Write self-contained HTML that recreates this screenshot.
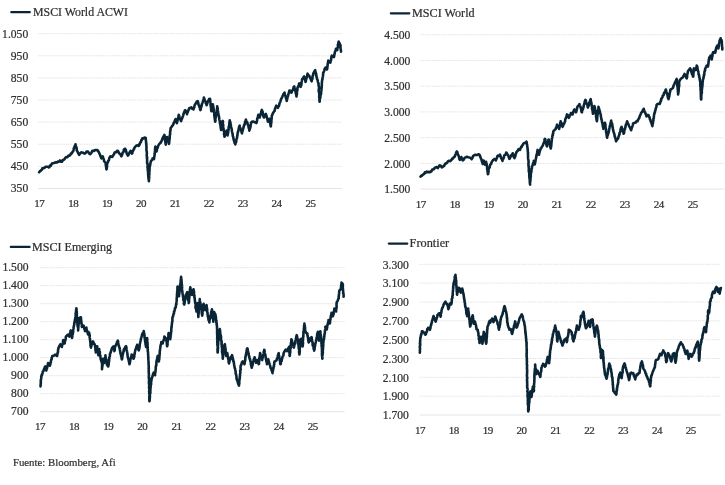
<!DOCTYPE html>
<html lang="es"><head><meta charset="utf-8"><title>MSCI</title>
<style>html,body{margin:0;padding:0;background:#fff}svg{display:block}text{font-family:"Liberation Serif", serif;fill:#303030;stroke:#303030;stroke-width:0.22}.yl{font-size:11.6px;text-anchor:end}.xl{font-size:11px;text-anchor:middle;letter-spacing:-0.5px}.lg{font-size:11.5px}.g{stroke:#e4e4e4;stroke-width:1;stroke-dasharray:1.5 0.8;fill:none}.ax{stroke:#e4e4e4;stroke-width:1;fill:none}.ln{stroke:#0a2536;stroke-width:2.6;fill:none;stroke-linejoin:round;stroke-linecap:round}.lk{stroke:#0a2536;stroke-width:2.2;fill:none;stroke-linecap:round}</style></head><body>
<svg width="725" height="485" viewBox="0 0 725 485">
<rect width="725" height="485" fill="#fff"/>
<g>
<line class="g" x1="38" x2="342" y1="33.7" y2="33.7"/>
<text class="yl" x="28.2" y="37.6">1.050</text>
<line class="g" x1="38" x2="342" y1="55.8" y2="55.8"/>
<text class="yl" x="28.2" y="59.7">950</text>
<line class="g" x1="38" x2="342" y1="77.9" y2="77.9"/>
<text class="yl" x="28.2" y="81.8">850</text>
<line class="g" x1="38" x2="342" y1="100.0" y2="100.0"/>
<text class="yl" x="28.2" y="103.9">750</text>
<line class="g" x1="38" x2="342" y1="122.1" y2="122.1"/>
<text class="yl" x="28.2" y="126.0">650</text>
<line class="g" x1="38" x2="342" y1="144.2" y2="144.2"/>
<text class="yl" x="28.2" y="148.2">550</text>
<line class="g" x1="38" x2="342" y1="166.4" y2="166.4"/>
<text class="yl" x="28.2" y="170.3">450</text>
<line class="ax" x1="38" x2="342" y1="188.5" y2="188.5"/>
<text class="yl" x="28.2" y="192.4">350</text>
<text class="xl" x="39.3" y="207.2">17</text>
<text class="xl" x="73.2" y="207.2">18</text>
<text class="xl" x="107.1" y="207.2">19</text>
<text class="xl" x="141.0" y="207.2">20</text>
<text class="xl" x="174.9" y="207.2">21</text>
<text class="xl" x="208.8" y="207.2">22</text>
<text class="xl" x="242.7" y="207.2">23</text>
<text class="xl" x="276.6" y="207.2">24</text>
<text class="xl" x="310.5" y="207.2">25</text>
<line class="lk" x1="11.3" x2="29.8" y1="12.2" y2="12.2"/>
<text class="lg" x="33" y="16.2" textLength="95.0" lengthAdjust="spacingAndGlyphs">MSCI World ACWI</text>
<path class="ln" d="M39.1,172.2 L40.0,171.1 L40.4,171.1 L41.2,170.1 L42.0,169.6 L42.4,168.3 L43.3,168.1 L44.2,168.0 L44.9,167.4 L46.0,166.7 L47.1,166.8 L48.1,166.8 L48.8,167.4 L49.3,167.2 L50.2,165.4 L50.8,165.8 L51.5,164.3 L52.2,163.3 L53.0,163.2 L54.0,163.0 L54.9,162.6 L56.0,162.4 L57.1,162.5 L57.8,161.6 L59.0,161.6 L59.9,160.5 L60.4,161.3 L61.2,161.8 L62.1,161.7 L62.6,160.0 L63.4,160.0 L64.0,159.6 L64.8,158.8 L65.4,157.7 L66.3,157.0 L67.2,157.3 L67.9,156.5 L68.6,155.5 L69.5,155.6 L70.2,155.2 L70.9,153.6 L71.7,153.4 L72.3,152.2 L73.0,151.5 L73.4,150.6 L73.6,149.7 L73.7,148.8 L74.3,147.3 L74.6,147.6 L74.7,146.0 L75.4,145.2 L75.5,144.3 L75.7,145.6 L75.8,146.6 L76.4,147.1 L76.4,148.1 L76.7,148.7 L76.7,150.4 L77.1,150.8 L77.7,152.0 L78.1,152.9 L78.4,153.6 L78.8,154.2 L79.2,154.9 L80.0,153.5 L80.5,153.2 L81.3,152.2 L82.1,152.5 L82.9,152.7 L83.9,153.3 L84.7,153.6 L85.6,153.0 L86.5,151.6 L87.5,151.5 L88.2,151.8 L89.0,153.3 L89.7,153.9 L90.2,154.2 L91.1,153.1 L91.5,152.7 L92.1,151.1 L93.0,150.8 L93.9,150.9 L95.1,150.0 L95.9,150.1 L97.2,150.1 L97.9,150.6 L98.4,151.5 L99.2,152.9 L99.6,154.0 L99.9,154.5 L100.2,155.1 L100.5,156.5 L101.1,157.0 L101.3,158.4 L101.9,157.4 L102.7,156.3 L103.1,157.4 L103.0,157.7 L103.6,158.8 L103.9,159.8 L104.1,161.1 L104.8,162.1 L105.4,162.5 L105.8,163.2 L105.7,164.9 L105.9,165.2 L106.0,166.4 L106.2,167.2 L106.2,167.9 L106.4,169.4 L106.7,169.0 L106.9,167.2 L107.1,166.2 L107.0,165.8 L107.0,164.2 L107.2,164.0 L107.5,162.5 L108.1,162.0 L108.2,160.8 L108.9,160.3 L109.1,159.2 L109.4,157.9 L110.0,156.8 L110.3,156.3 L111.2,156.6 L112.3,157.0 L112.9,155.7 L113.3,155.1 L113.9,154.4 L114.0,154.3 L114.6,152.6 L115.1,152.2 L116.1,152.3 L116.8,151.1 L117.9,150.8 L118.5,151.8 L118.8,152.9 L119.4,153.6 L120.0,153.9 L120.4,154.4 L120.7,155.0 L121.3,156.3 L121.6,155.9 L122.1,154.9 L122.3,154.1 L122.6,152.7 L123.1,152.4 L123.6,151.7 L123.8,149.8 L124.1,149.4 L125.0,148.7 L125.2,149.1 L125.8,149.9 L126.2,151.7 L126.4,152.0 L126.7,153.4 L127.0,154.0 L127.3,154.3 L127.8,155.6 L128.2,155.3 L128.7,154.5 L129.3,152.9 L129.4,152.8 L129.9,151.8 L130.5,150.8 L131.1,151.2 L131.3,152.1 L131.9,153.6 L132.3,153.3 L132.6,151.3 L133.2,150.6 L133.6,149.5 L134.1,149.0 L134.2,148.7 L134.7,147.3 L135.6,146.4 L136.6,145.5 L137.4,145.3 L138.8,146.0 L139.0,144.6 L139.5,144.8 L139.9,143.5 L140.2,142.4 L140.9,142.2 L141.0,141.5 L141.5,139.7 L141.9,139.8 L142.3,138.4 L143.5,138.4 L144.6,137.6 L145.7,137.7 L145.7,138.4 L145.8,139.0 L145.9,141.0 L146.1,141.5 L146.1,142.8 L146.1,143.0 L146.4,143.9 L146.3,145.5 L146.4,146.0 L146.5,146.7 L146.5,147.9 L146.4,148.4 L146.4,149.3 L146.5,150.6 L146.7,151.0 L146.8,152.2 L146.9,153.3 L146.8,153.8 L146.7,155.5 L146.8,156.6 L147.2,157.3 L146.9,158.3 L147.1,158.4 L147.1,159.8 L147.1,161.2 L147.1,162.2 L147.1,163.2 L147.5,163.4 L147.6,165.0 L147.6,166.0 L147.5,166.8 L147.5,167.4 L147.8,168.7 L147.8,169.4 L147.7,170.0 L148.1,171.8 L148.1,172.2 L148.1,173.5 L148.2,173.8 L148.1,174.6 L148.4,175.9 L148.3,176.7 L148.4,177.4 L148.5,178.0 L148.7,179.8 L148.9,180.2 L148.9,181.2 L148.7,180.0 L149.0,179.4 L149.0,178.6 L149.2,177.8 L149.1,176.3 L149.0,175.7 L149.2,174.7 L149.4,174.4 L149.3,172.7 L149.2,171.6 L149.5,171.2 L149.5,169.9 L149.4,169.9 L149.6,168.7 L149.6,167.4 L149.6,166.7 L149.9,165.9 L150.2,165.0 L150.3,164.1 L150.6,162.5 L150.9,161.3 L151.4,160.5 L151.6,160.4 L152.3,159.4 L152.6,158.4 L154.0,159.1 L154.1,157.9 L154.3,156.8 L154.5,155.7 L154.5,155.6 L154.7,154.0 L154.5,153.9 L154.9,152.7 L154.9,151.6 L155.1,150.4 L155.0,150.1 L155.1,148.9 L155.2,147.2 L155.4,146.6 L155.8,147.2 L155.7,149.1 L156.0,149.7 L156.2,150.1 L156.5,151.5 L156.9,150.3 L156.9,149.0 L157.1,148.6 L157.6,148.0 L157.8,147.3 L158.1,146.0 L158.7,144.9 L159.3,144.0 L159.9,143.2 L160.5,143.0 L160.9,141.8 L161.4,141.5 L161.9,140.1 L162.2,139.5 L162.6,138.2 L163.2,137.0 L163.6,136.2 L164.1,135.8 L164.4,134.9 L164.7,136.2 L164.6,136.4 L164.7,137.9 L164.9,138.8 L164.9,139.8 L165.2,140.6 L165.3,141.4 L165.5,143.0 L165.7,143.6 L165.7,144.6 L165.8,143.5 L166.0,142.1 L166.4,141.8 L166.4,141.2 L166.6,140.4 L166.7,139.3 L167.1,138.2 L167.1,137.0 L167.3,137.7 L167.7,139.1 L167.7,139.8 L168.1,140.8 L168.6,141.8 L168.8,143.0 L168.9,143.9 L169.1,143.5 L169.2,142.1 L169.3,141.4 L169.3,140.4 L169.5,139.6 L169.6,139.0 L169.7,138.0 L169.7,137.1 L169.7,135.6 L169.9,134.9 L170.2,134.2 L170.0,133.0 L170.2,132.4 L170.2,130.9 L170.6,130.0 L170.5,128.9 L170.7,128.0 L171.1,127.4 L172.0,126.4 L172.3,125.8 L173.0,124.9 L173.5,123.9 L173.8,122.6 L174.2,122.4 L174.9,120.5 L175.1,120.0 L175.6,119.0 L176.0,120.1 L176.3,120.7 L176.7,122.4 L176.9,123.2 L177.2,122.0 L177.4,121.0 L177.6,120.0 L177.7,119.9 L178.1,118.2 L178.3,117.9 L178.5,116.2 L178.5,116.0 L178.7,114.9 L179.2,115.7 L179.3,117.0 L179.6,117.7 L180.0,119.0 L180.5,119.8 L180.6,120.3 L181.1,121.1 L181.3,120.2 L181.9,118.8 L182.2,118.2 L182.5,117.1 L182.7,116.8 L183.1,115.6 L183.5,114.2 L183.7,113.7 L184.0,112.4 L184.7,112.0 L184.7,110.6 L185.2,110.1 L185.7,111.1 L186.0,112.3 L186.4,112.4 L186.7,112.9 L187.0,114.2 L187.3,112.8 L187.6,112.4 L187.9,111.1 L188.3,111.0 L188.6,109.9 L189.0,109.1 L189.4,108.0 L190.6,107.8 L191.4,107.3 L191.9,108.6 L193.0,109.0 L193.5,109.4 L193.7,108.2 L194.2,107.5 L194.5,106.3 L194.5,105.8 L194.9,104.5 L195.4,104.2 L196.3,102.4 L196.9,101.4 L197.7,101.1 L197.9,101.5 L198.4,103.3 L198.3,103.2 L198.6,105.1 L198.9,105.3 L199.1,106.0 L199.7,107.5 L200.0,108.5 L200.1,109.4 L200.4,110.1 L200.8,109.3 L200.8,108.4 L201.3,106.9 L201.3,106.6 L201.7,105.7 L201.7,104.8 L202.1,103.7 L202.5,102.6 L202.7,102.0 L203.0,101.4 L203.2,100.6 L203.6,99.1 L203.8,98.1 L203.9,97.6 L204.4,99.0 L204.4,99.0 L204.9,100.8 L205.4,101.3 L205.6,101.8 L205.8,103.3 L206.4,104.1 L206.6,105.2 L206.8,104.8 L207.2,103.5 L207.5,102.9 L208.0,101.1 L208.3,101.1 L208.9,99.4 L209.1,99.0 L210.0,98.8 L210.2,100.1 L210.2,100.5 L210.3,101.4 L210.4,102.4 L210.7,103.9 L210.5,104.7 L210.7,105.7 L210.9,107.0 L211.0,107.8 L211.2,108.4 L211.1,109.7 L211.2,109.9 L211.4,111.2 L211.4,110.3 L211.8,109.1 L212.1,107.7 L212.1,107.5 L212.3,106.1 L212.7,105.1 L212.8,104.3 L212.9,105.2 L213.2,105.7 L213.1,106.9 L213.5,107.5 L213.6,108.9 L213.7,110.3 L213.8,111.1 L213.9,112.1 L213.9,112.1 L214.3,113.5 L214.3,114.7 L214.3,115.5 L214.5,116.7 L214.6,116.9 L214.7,118.5 L214.7,118.5 L215.0,120.0 L215.0,121.2 L215.2,121.6 L215.5,120.6 L215.3,119.3 L215.5,119.0 L215.6,117.6 L215.8,117.3 L215.8,115.7 L216.1,115.8 L216.3,114.1 L216.2,113.0 L216.5,113.1 L216.7,111.5 L216.8,111.0 L216.7,110.5 L216.9,109.3 L217.1,108.7 L217.2,107.6 L217.2,106.4 L217.2,107.9 L217.6,107.9 L217.7,109.6 L217.8,110.2 L218.1,111.6 L218.0,112.2 L218.3,113.4 L218.4,113.6 L218.5,115.1 L218.7,115.4 L219.0,116.8 L219.2,118.2 L219.3,119.2 L219.4,119.7 L219.6,120.5 L219.9,121.8 L219.9,122.3 L219.9,123.1 L220.2,124.3 L220.5,125.3 L220.5,125.7 L220.7,127.7 L220.7,128.1 L221.1,128.8 L221.0,129.9 L221.3,129.5 L221.6,128.6 L221.5,127.6 L221.8,126.3 L222.0,125.2 L222.0,124.5 L222.1,123.6 L222.3,122.5 L222.4,121.2 L222.7,120.9 L223.0,121.6 L222.8,122.9 L222.9,124.3 L223.2,124.7 L223.2,125.8 L223.3,126.9 L223.4,127.7 L223.6,129.0 L223.5,128.8 L223.7,130.8 L223.8,130.6 L224.2,132.1 L224.2,132.9 L224.0,134.4 L224.5,135.1 L224.4,135.9 L224.5,136.8 L225.0,135.7 L224.9,135.6 L225.4,134.2 L225.5,133.4 L225.9,132.1 L226.4,131.4 L226.6,130.6 L226.9,132.0 L226.9,132.7 L227.3,133.3 L227.5,134.2 L227.7,135.4 L227.6,135.0 L227.8,134.1 L228.2,132.6 L228.2,131.5 L228.4,130.8 L228.3,130.6 L228.7,129.1 L228.5,128.3 L228.7,127.7 L228.7,126.5 L229.1,126.2 L229.3,125.2 L229.3,123.5 L229.5,122.8 L229.4,122.4 L229.7,120.8 L229.8,120.2 L229.8,121.0 L230.1,121.7 L230.5,123.0 L230.5,123.9 L230.6,124.3 L230.9,125.4 L230.9,126.3 L231.2,127.3 L231.4,128.2 L231.7,128.9 L231.8,130.4 L231.8,130.5 L232.1,132.0 L232.4,133.2 L232.7,134.3 L232.7,134.7 L232.7,135.7 L233.0,136.5 L233.3,137.4 L233.5,138.9 L233.8,140.0 L234.0,140.9 L234.4,141.3 L234.6,143.0 L234.8,142.9 L235.3,144.4 L235.6,143.3 L235.6,142.1 L236.2,141.9 L236.3,140.6 L236.3,140.0 L236.6,138.9 L236.9,138.2 L237.2,137.0 L237.1,136.6 L237.5,134.9 L237.6,134.0 L237.6,133.3 L237.8,132.1 L238.3,131.6 L238.2,131.0 L238.4,130.1 L238.6,129.0 L238.8,128.6 L239.0,127.1 L239.7,125.7 L240.0,127.1 L240.3,128.1 L240.5,129.0 L240.9,129.8 L241.2,130.5 L241.4,131.5 L241.8,132.9 L242.0,133.3 L242.1,132.4 L242.4,131.4 L242.8,130.0 L243.0,129.5 L243.3,128.1 L243.5,127.4 L243.8,126.4 L244.0,125.1 L244.4,124.9 L244.8,123.9 L244.9,123.3 L245.1,121.6 L245.3,121.5 L245.5,120.9 L245.9,119.5 L246.1,120.9 L246.7,121.8 L247.1,122.1 L247.4,122.8 L247.6,124.0 L248.0,125.1 L248.3,125.5 L248.5,126.6 L248.7,128.2 L249.1,128.1 L249.2,130.2 L249.4,130.6 L249.6,129.5 L249.8,129.2 L250.1,128.2 L250.5,126.8 L250.6,125.9 L250.7,124.5 L251.1,123.6 L251.0,122.6 L251.4,122.3 L252.3,121.5 L253.5,121.6 L254.4,122.1 L255.5,122.2 L256.3,123.0 L256.6,122.6 L256.9,121.5 L257.1,119.9 L257.2,119.0 L257.3,118.2 L257.8,117.8 L258.0,116.3 L258.2,115.4 L258.3,114.7 L258.9,116.2 L259.2,116.0 L259.7,117.5 L259.9,116.4 L260.2,115.9 L260.6,114.8 L260.6,113.7 L261.2,112.9 L261.3,111.4 L261.5,110.8 L261.8,109.9 L262.2,111.1 L262.5,111.2 L262.7,112.6 L262.9,113.3 L263.0,114.1 L263.4,116.1 L263.6,116.9 L263.9,117.5 L264.4,116.6 L265.0,116.1 L265.4,114.5 L265.9,114.0 L266.2,115.0 L266.6,116.4 L266.7,116.4 L266.8,117.3 L267.1,118.2 L267.6,120.0 L267.7,121.0 L268.0,121.6 L268.7,120.3 L269.1,120.2 L269.4,118.8 L269.5,119.2 L269.8,120.9 L269.9,122.2 L269.9,122.5 L270.4,124.0 L270.5,125.0 L270.5,125.3 L270.8,126.4 L271.0,125.8 L270.8,125.1 L271.1,123.8 L271.3,122.7 L271.3,122.4 L271.4,121.2 L271.4,120.2 L271.6,118.8 L271.7,117.7 L271.7,117.1 L271.8,116.5 L271.9,115.4 L272.2,115.1 L273.0,113.1 L273.2,112.7 L273.8,112.0 L274.2,111.2 L274.7,110.9 L274.9,109.2 L275.3,108.4 L275.5,107.5 L275.9,106.5 L276.3,105.7 L277.3,106.4 L278.0,107.8 L278.2,106.7 L278.8,106.1 L279.1,105.5 L279.3,104.5 L279.6,102.9 L280.0,102.3 L280.4,101.6 L280.6,100.6 L281.0,99.3 L281.6,98.4 L281.7,97.9 L282.3,96.9 L282.5,96.0 L283.1,95.3 L283.4,94.2 L283.9,93.6 L284.6,92.6 L284.6,93.9 L285.0,94.7 L285.3,95.6 L285.5,95.8 L285.6,96.7 L285.9,98.0 L286.4,99.2 L286.6,99.8 L286.7,100.9 L287.0,99.6 L287.2,98.8 L287.5,97.6 L287.6,96.8 L288.0,95.9 L288.2,95.3 L288.3,94.6 L288.8,92.8 L289.0,92.2 L289.2,92.0 L289.4,90.5 L290.3,90.7 L290.7,92.1 L291.5,92.6 L291.9,91.4 L292.4,90.4 L292.8,90.2 L293.2,88.9 L293.6,87.7 L293.7,87.0 L294.3,86.4 L294.3,86.8 L294.6,88.5 L294.9,89.1 L295.1,89.8 L295.5,91.2 L295.6,91.9 L295.8,93.4 L295.8,93.6 L296.2,94.1 L296.3,95.1 L296.5,96.5 L296.5,95.5 L296.9,94.3 L297.0,93.8 L296.8,93.4 L296.9,92.2 L297.2,91.0 L297.3,90.7 L297.4,88.9 L297.4,88.4 L297.6,87.5 L298.2,86.3 L298.6,86.0 L299.0,83.9 L299.3,83.3 L299.8,84.2 L299.8,84.7 L300.2,86.4 L300.7,86.8 L300.8,85.3 L301.2,85.5 L301.4,83.8 L301.5,83.4 L301.5,82.2 L301.7,81.6 L301.9,80.7 L302.1,79.2 L302.7,78.8 L303.5,77.3 L304.1,76.4 L304.2,77.1 L304.7,78.4 L305.0,78.9 L305.2,80.5 L305.5,80.9 L305.5,82.0 L305.8,81.4 L306.0,79.7 L306.4,78.6 L306.4,78.1 L306.7,77.4 L306.9,76.5 L307.3,75.7 L307.3,74.5 L307.6,73.7 L307.9,74.9 L308.5,75.0 L309.3,75.9 L309.7,77.1 L309.9,77.5 L310.5,78.6 L311.1,80.0 L311.4,80.9 L311.7,81.3 L311.7,79.7 L312.2,79.5 L312.5,78.0 L312.5,77.4 L312.5,76.5 L313.1,75.0 L313.1,74.4 L313.4,73.3 L314.0,72.4 L314.2,71.6 L314.8,70.8 L315.2,70.2 L315.3,71.4 L315.8,72.5 L315.6,73.3 L316.2,73.6 L316.1,75.1 L316.4,75.5 L316.4,76.8 L316.9,77.2 L316.9,78.8 L317.2,79.2 L317.7,80.3 L317.9,81.7 L318.2,82.9 L318.6,83.3 L318.5,83.8 L318.6,85.4 L318.6,85.9 L319.0,86.7 L319.0,88.0 L318.8,89.4 L318.7,90.6 L318.8,91.6 L319.0,92.0 L319.1,92.7 L319.2,93.4 L319.3,94.4 L319.3,95.4 L319.2,96.6 L319.3,97.9 L319.5,98.7 L319.4,99.5 L319.5,101.0 L319.6,101.8 L319.7,101.4 L319.7,99.8 L319.9,98.3 L320.3,98.1 L320.3,97.5 L320.4,96.3 L320.6,94.6 L320.9,94.3 L321.1,93.7 L321.1,92.3 L321.2,91.2 L321.4,90.2 L321.5,89.5 L321.5,88.7 L321.7,87.3 L321.7,86.6 L321.9,85.5 L321.7,84.6 L321.9,83.3 L321.9,82.0 L321.9,82.0 L322.1,80.6 L322.3,79.6 L322.5,79.2 L322.5,78.0 L322.8,76.8 L323.0,75.8 L323.1,74.5 L323.1,74.4 L323.2,72.6 L323.5,72.3 L324.0,71.4 L324.2,70.8 L324.6,68.9 L325.2,69.0 L325.5,67.5 L326.3,68.0 L326.9,69.5 L327.1,69.2 L327.4,67.4 L327.2,67.1 L327.5,66.3 L327.6,65.1 L327.7,63.9 L327.9,63.3 L327.9,62.8 L328.3,61.1 L328.3,60.6 L329.0,61.4 L329.6,62.1 L330.4,62.6 L330.5,61.5 L331.0,60.2 L331.1,60.0 L331.2,58.1 L331.4,57.5 L331.4,56.9 L331.8,55.7 L332.8,56.3 L333.8,57.1 L334.1,56.6 L334.3,55.0 L334.4,54.4 L334.7,53.5 L334.9,51.9 L335.2,51.1 L335.6,50.7 L335.8,50.0 L335.9,48.8 L336.5,50.1 L337.3,50.2 L337.3,49.1 L337.6,47.8 L337.6,47.4 L338.1,46.9 L337.8,44.9 L338.3,44.0 L338.2,44.0 L338.5,42.0 L338.7,41.6 L338.9,42.4 L339.4,42.9 L339.9,44.1 L340.5,45.4 L340.4,46.5 L340.5,47.1 L340.6,48.9 L340.8,49.6 L340.9,50.3 L341.0,51.6"/>
</g>
<g>
<line class="g" x1="420.5" x2="724" y1="34.7" y2="34.7"/>
<text class="yl" x="410.3" y="38.9">4.500</text>
<line class="g" x1="420.5" x2="724" y1="60.4" y2="60.4"/>
<text class="yl" x="410.3" y="64.6">4.000</text>
<line class="g" x1="420.5" x2="724" y1="86.2" y2="86.2"/>
<text class="yl" x="410.3" y="90.4">3.500</text>
<line class="g" x1="420.5" x2="724" y1="111.9" y2="111.9"/>
<text class="yl" x="410.3" y="116.1">3.000</text>
<line class="g" x1="420.5" x2="724" y1="137.7" y2="137.7"/>
<text class="yl" x="410.3" y="141.9">2.500</text>
<line class="g" x1="420.5" x2="724" y1="163.4" y2="163.4"/>
<text class="yl" x="410.3" y="167.6">2.000</text>
<line class="ax" x1="420.5" x2="724" y1="189.1" y2="189.1"/>
<text class="yl" x="410.3" y="193.3">1.500</text>
<text class="xl" x="420.7" y="208.0">17</text>
<text class="xl" x="454.7" y="208.0">18</text>
<text class="xl" x="488.7" y="208.0">19</text>
<text class="xl" x="522.7" y="208.0">20</text>
<text class="xl" x="556.7" y="208.0">21</text>
<text class="xl" x="590.7" y="208.0">22</text>
<text class="xl" x="624.7" y="208.0">23</text>
<text class="xl" x="658.7" y="208.0">24</text>
<text class="xl" x="692.7" y="208.0">25</text>
<line class="lk" x1="390.8" x2="409.3" y1="13.35" y2="13.35"/>
<text class="lg" x="412" y="16.8" textLength="62.6" lengthAdjust="spacingAndGlyphs">MSCI World</text>
<path class="ln" d="M420.5,176.6 L421.4,175.6 L421.8,175.8 L422.6,174.9 L423.3,174.3 L424.3,173.8 L424.8,172.4 L425.9,172.6 L426.7,171.5 L427.7,172.1 L429.1,171.9 L430.2,172.2 L431.1,171.2 L431.4,171.3 L432.3,169.6 L433.0,169.4 L433.8,169.3 L434.8,167.7 L435.7,167.4 L436.6,167.1 L437.8,168.1 L438.5,167.1 L439.1,165.9 L439.9,165.3 L440.5,165.6 L441.1,166.4 L441.9,167.4 L442.6,167.1 L443.2,166.2 L444.1,165.9 L444.7,164.6 L445.3,163.5 L446.2,163.5 L446.7,163.1 L447.5,162.2 L448.1,161.1 L449.1,160.7 L450.1,161.1 L450.9,160.5 L451.6,159.8 L452.2,158.5 L452.9,158.7 L453.7,157.3 L454.4,157.0 L454.8,156.3 L455.2,155.0 L455.7,154.3 L456.0,153.3 L456.2,152.4 L456.9,151.5 L457.3,152.0 L457.7,154.1 L458.0,154.5 L458.5,155.6 L459.0,156.7 L459.2,158.0 L459.4,159.2 L459.9,159.8 L460.5,158.9 L460.8,158.0 L461.3,157.0 L461.6,157.6 L461.8,159.3 L462.4,159.9 L462.7,160.5 L463.4,160.0 L464.0,159.0 L464.7,157.7 L465.6,157.5 L466.7,156.7 L467.5,157.0 L468.3,157.3 L469.3,157.5 L470.2,157.7 L470.9,158.2 L471.6,159.1 L472.2,158.3 L472.6,157.5 L473.1,155.9 L473.7,155.6 L474.8,154.9 L475.8,154.9 L476.8,155.1 L477.7,154.8 L478.5,154.2 L479.4,154.6 L479.9,155.6 L480.1,156.7 L480.4,156.8 L480.9,158.5 L481.3,159.1 L481.6,159.6 L481.7,160.8 L482.1,161.6 L482.3,162.5 L482.7,163.9 L483.0,163.0 L483.3,161.4 L483.6,160.5 L483.9,160.9 L484.1,162.4 L484.6,163.1 L484.8,164.6 L485.1,163.7 L485.8,162.9 L486.1,161.8 L486.1,162.3 L486.5,163.5 L486.7,164.5 L486.8,166.2 L487.1,166.7 L487.1,168.1 L487.2,169.4 L487.4,169.8 L487.5,171.0 L487.7,172.0 L487.7,172.7 L487.9,174.3 L488.2,173.9 L488.4,172.2 L488.6,171.3 L488.5,170.9 L488.5,169.4 L488.9,168.7 L489.1,168.2 L489.8,167.1 L489.8,165.7 L490.3,164.6 L491.0,164.2 L491.3,163.1 L491.8,161.9 L492.3,161.1 L493.1,160.1 L493.6,159.7 L494.4,159.1 L495.2,159.3 L495.8,160.5 L496.2,159.2 L496.8,158.3 L496.9,158.0 L497.4,156.2 L497.9,155.6 L499.0,155.9 L499.9,154.9 L500.0,154.7 L500.2,155.4 L500.8,156.7 L501.0,157.9 L501.5,158.7 L502.0,159.1 L502.2,159.7 L502.5,160.9 L502.7,159.4 L503.0,159.5 L503.5,158.3 L503.8,157.5 L504.1,156.1 L504.6,155.0 L505.2,154.8 L505.9,154.0 L506.2,152.6 L506.9,153.2 L507.6,154.7 L507.8,155.0 L508.5,155.8 L508.8,157.5 L509.1,157.8 L509.4,158.8 L509.9,158.3 L510.4,157.1 L511.0,156.1 L511.5,154.7 L512.2,154.7 L512.7,153.3 L513.0,154.8 L513.5,155.0 L513.6,156.6 L514.0,157.4 L514.5,158.1 L515.0,156.8 L515.0,155.8 L515.4,156.1 L515.6,154.1 L516.1,153.4 L516.4,152.3 L516.6,151.9 L517.5,150.9 L517.9,150.6 L518.6,149.2 L520.0,149.9 L520.4,148.7 L520.9,147.7 L521.1,146.8 L521.6,147.1 L522.1,145.7 L522.8,144.9 L523.3,143.7 L524.2,143.0 L525.1,143.0 L525.6,142.6 L526.5,141.6 L526.7,142.2 L526.9,144.1 L527.1,144.8 L527.2,145.2 L527.2,146.3 L527.4,147.0 L527.6,148.5 L527.7,150.0 L527.8,150.5 L527.8,151.8 L527.8,151.9 L528.1,152.9 L527.9,154.5 L528.0,154.7 L528.1,155.9 L528.0,156.5 L528.0,157.4 L528.1,158.7 L528.3,159.5 L528.4,160.0 L528.5,161.2 L528.6,162.4 L528.5,162.9 L528.4,164.7 L528.5,165.8 L528.9,166.6 L528.7,167.6 L528.8,167.7 L528.8,169.6 L528.8,170.5 L528.8,171.5 L529.0,172.0 L529.2,172.6 L529.3,174.1 L529.3,175.1 L529.2,175.8 L529.3,176.4 L529.5,177.7 L529.4,178.0 L529.8,179.8 L529.7,180.2 L529.8,181.5 L529.8,181.8 L529.8,182.6 L530.0,183.9 L530.1,184.7 L530.0,183.8 L530.1,182.6 L530.2,181.4 L530.3,181.3 L530.5,179.8 L530.3,178.7 L530.6,178.1 L530.6,177.3 L530.8,176.4 L530.8,174.9 L530.8,174.3 L530.9,173.3 L531.1,172.3 L531.4,171.9 L531.5,170.1 L531.4,168.9 L531.9,168.4 L532.0,167.0 L532.0,166.4 L532.3,166.0 L532.8,164.8 L533.0,163.5 L533.3,163.0 L533.7,162.3 L533.8,160.9 L534.2,162.6 L534.4,162.8 L534.8,164.4 L535.0,163.1 L535.0,162.8 L535.4,161.7 L535.5,160.4 L535.8,159.2 L536.0,158.1 L536.1,158.1 L536.2,156.8 L536.6,155.5 L536.4,155.3 L536.9,154.1 L537.1,153.0 L537.3,151.8 L537.3,151.4 L537.6,149.9 L537.8,151.2 L538.1,151.4 L538.6,152.3 L538.5,154.3 L539.0,154.7 L539.2,153.9 L539.4,152.5 L539.8,151.7 L539.9,150.5 L540.0,150.2 L540.5,149.5 L540.7,148.5 L541.3,148.0 L542.1,146.4 L542.8,145.7 L543.1,144.6 L543.4,143.7 L543.7,143.5 L543.9,142.8 L544.3,141.4 L544.4,140.9 L544.5,139.5 L544.9,138.8 L545.3,139.3 L545.5,140.3 L545.9,141.7 L546.1,142.9 L546.2,143.1 L546.4,144.6 L546.6,145.5 L547.0,146.4 L547.0,145.5 L547.4,144.4 L547.6,143.2 L548.0,142.8 L548.2,141.5 L548.3,140.3 L548.6,139.5 L548.8,139.8 L549.2,141.4 L549.3,142.6 L549.5,143.7 L549.7,144.4 L550.1,145.2 L550.0,145.6 L550.4,146.8 L550.4,147.4 L550.8,148.5 L550.9,147.4 L551.2,146.4 L551.2,145.7 L551.3,145.1 L551.4,143.6 L551.5,142.8 L551.5,141.9 L551.7,140.9 L551.8,140.3 L551.8,138.8 L552.1,138.2 L552.3,137.2 L552.4,135.7 L552.9,135.1 L552.8,133.9 L553.2,133.3 L553.2,131.9 L553.6,130.9 L554.4,130.3 L555.0,129.5 L555.7,128.9 L555.9,128.0 L556.6,126.8 L556.7,126.0 L557.1,124.7 L557.6,125.8 L557.8,126.0 L558.3,127.7 L558.9,127.5 L559.2,128.9 L559.3,127.9 L559.6,127.0 L559.8,125.6 L560.0,125.3 L560.1,123.8 L560.2,122.8 L560.5,121.8 L560.6,121.3 L560.8,122.6 L561.4,122.8 L561.7,124.3 L562.1,124.4 L562.2,126.0 L562.6,126.8 L563.1,125.7 L563.3,125.2 L563.7,124.0 L564.3,123.5 L564.7,122.0 L565.1,121.5 L565.2,120.2 L565.4,119.1 L566.0,117.7 L566.3,117.0 L566.5,116.0 L566.7,115.6 L567.0,114.4 L567.5,114.8 L567.8,116.1 L568.2,116.6 L568.8,117.8 L569.4,117.0 L569.5,115.5 L570.2,115.2 L570.5,114.5 L570.9,113.0 L571.9,113.5 L572.6,114.4 L573.0,112.9 L573.2,111.9 L573.6,111.5 L573.9,110.1 L574.4,109.5 L574.9,110.8 L575.4,111.5 L576.0,112.3 L576.2,111.6 L576.6,110.5 L576.5,110.0 L577.0,108.8 L577.1,107.5 L577.7,106.4 L578.5,105.8 L579.0,104.7 L579.5,104.0 L579.6,105.2 L579.8,106.3 L580.4,106.3 L580.5,107.2 L580.8,108.2 L581.3,109.9 L581.2,109.9 L581.5,111.8 L582.0,112.3 L582.0,111.1 L582.2,110.0 L582.8,109.8 L583.0,109.0 L583.1,108.0 L583.6,107.1 L583.6,106.1 L583.8,105.4 L584.3,103.8 L584.3,103.5 L584.7,102.7 L584.7,101.7 L585.1,100.6 L585.4,99.9 L585.9,100.5 L586.1,101.7 L586.4,103.0 L586.8,103.9 L587.2,104.3 L587.4,105.1 L587.7,106.9 L587.9,107.5 L588.0,106.0 L588.5,106.0 L589.0,104.5 L589.1,103.2 L589.3,102.8 L589.8,101.8 L589.9,101.5 L590.2,100.1 L590.7,99.2 L590.6,100.4 L590.9,100.4 L591.0,102.2 L591.4,102.4 L591.5,104.1 L591.5,104.4 L591.7,105.2 L591.8,106.2 L592.2,107.7 L592.0,108.3 L592.3,109.3 L592.5,110.6 L592.7,111.4 L592.9,111.9 L592.8,113.2 L593.0,113.7 L593.1,112.3 L593.2,111.8 L593.6,110.6 L593.8,109.3 L593.8,109.1 L594.0,107.7 L594.3,106.8 L594.4,106.1 L594.5,107.0 L594.9,107.4 L594.8,108.5 L595.2,109.1 L595.3,110.5 L595.5,112.0 L595.6,112.7 L595.7,113.7 L595.7,113.7 L596.1,115.1 L596.1,116.2 L596.1,117.1 L596.4,118.2 L596.4,118.5 L596.6,120.1 L596.6,120.0 L596.9,121.3 L597.0,120.6 L597.0,119.9 L597.3,118.4 L597.1,117.1 L597.3,116.8 L597.4,115.4 L597.6,115.1 L597.5,113.5 L597.9,113.5 L598.1,111.8 L598.0,110.7 L598.2,110.8 L598.4,109.2 L598.5,108.7 L598.4,108.1 L598.5,106.8 L598.8,107.9 L599.2,109.2 L599.4,109.9 L599.5,111.2 L599.9,111.2 L600.1,112.8 L600.3,113.4 L600.6,114.4 L600.9,115.7 L600.8,116.3 L601.1,117.5 L601.2,117.6 L601.3,119.1 L601.6,119.3 L601.9,121.2 L602.0,122.2 L602.2,122.6 L602.4,123.5 L602.7,124.7 L602.7,125.1 L602.8,125.9 L603.1,127.1 L603.4,128.0 L603.4,128.9 L603.6,127.6 L603.9,127.7 L603.9,126.3 L604.3,125.2 L604.4,124.9 L604.7,124.0 L604.8,122.7 L605.0,122.7 L605.1,124.0 L605.4,124.4 L605.5,125.2 L605.4,126.2 L605.5,127.1 L605.7,127.8 L605.7,128.3 L606.1,129.5 L606.0,130.8 L606.1,132.2 L606.4,132.5 L606.4,133.6 L606.6,134.6 L606.7,135.4 L606.9,136.6 L606.8,136.5 L607.1,137.8 L607.2,137.5 L607.4,135.4 L607.9,135.1 L608.1,134.0 L608.1,133.6 L608.7,132.5 L608.7,131.5 L609.1,130.3 L609.1,129.6 L609.2,129.2 L609.5,127.8 L609.6,127.1 L609.9,125.7 L610.3,125.0 L610.5,124.6 L610.4,123.5 L610.9,122.2 L611.0,121.2 L611.2,120.6 L611.3,122.0 L611.5,122.9 L612.0,123.3 L612.1,124.1 L612.4,125.3 L612.4,127.0 L612.8,127.3 L612.8,128.4 L613.0,129.6 L613.3,130.2 L613.3,131.2 L613.8,132.7 L614.2,133.5 L614.2,133.7 L614.5,134.8 L614.6,136.2 L615.0,136.4 L615.0,137.5 L615.4,138.2 L615.8,139.6 L615.9,140.4 L616.0,141.3 L616.7,140.0 L617.5,139.2 L618.1,138.5 L618.3,137.4 L618.6,136.6 L619.0,135.6 L619.3,134.5 L619.5,134.3 L619.6,132.6 L620.0,132.4 L620.4,131.7 L620.5,130.2 L620.6,129.3 L620.9,128.2 L621.3,127.2 L621.6,126.8 L621.9,127.9 L622.0,128.7 L622.4,129.0 L622.6,130.7 L622.7,130.5 L623.2,131.7 L623.3,132.3 L623.6,133.7 L624.1,133.0 L624.2,131.7 L624.2,131.1 L624.5,129.9 L625.0,129.0 L624.9,128.6 L625.5,127.0 L625.5,126.1 L625.7,125.4 L626.0,124.3 L626.5,123.8 L626.5,123.2 L626.8,122.4 L627.1,121.3 L627.4,122.2 L627.9,123.6 L628.4,124.3 L628.8,125.3 L629.1,126.2 L629.6,126.9 L630.0,127.6 L630.4,128.5 L630.9,129.8 L631.2,130.2 L631.3,129.4 L631.6,128.5 L632.0,127.3 L632.2,126.9 L632.6,125.7 L632.8,125.0 L633.0,123.7 L633.3,123.3 L634.2,123.1 L635.1,122.6 L635.9,122.4 L636.6,121.1 L637.5,121.3 L637.7,120.6 L638.1,120.0 L638.5,119.1 L639.2,118.1 L639.6,116.6 L640.0,115.5 L640.2,115.1 L640.7,114.0 L641.2,112.8 L641.8,112.1 L642.2,111.9 L642.9,110.0 L643.2,110.2 L643.7,108.8 L644.0,109.6 L644.3,111.2 L644.7,112.0 L645.2,112.5 L645.4,113.5 L645.7,114.0 L646.2,114.9 L646.4,116.4 L647.3,115.1 L648.5,115.1 L648.7,115.4 L649.0,116.8 L649.6,117.3 L649.8,118.9 L650.1,119.7 L650.4,119.8 L650.6,120.7 L650.8,121.7 L651.4,123.0 L651.6,123.3 L651.8,124.2 L652.2,125.8 L652.4,126.1 L652.5,124.7 L652.6,124.1 L652.8,123.7 L653.0,122.7 L652.9,121.5 L653.4,120.8 L653.4,119.3 L653.4,118.7 L653.8,118.1 L653.9,116.3 L654.0,115.8 L654.0,115.1 L654.4,113.7 L654.5,112.7 L654.8,112.8 L655.0,111.6 L655.3,110.3 L655.6,109.7 L655.8,108.1 L656.1,107.6 L656.4,107.1 L656.5,105.2 L656.8,104.7 L657.5,104.0 L658.5,103.7 L659.6,104.0 L660.0,103.4 L660.2,102.5 L660.8,100.8 L661.1,100.7 L661.2,98.8 L661.6,98.5 L662.1,97.7 L662.5,97.2 L662.7,95.7 L663.5,95.3 L663.8,94.5 L664.0,92.9 L664.7,92.5 L664.8,91.9 L665.4,90.5 L665.8,89.5 L666.1,90.3 L666.4,91.8 L666.6,92.4 L666.8,93.2 L667.1,93.6 L667.3,94.3 L667.6,95.5 L667.8,96.7 L667.9,98.0 L668.5,97.7 L668.5,99.2 L668.7,98.0 L669.0,97.1 L669.2,96.9 L669.4,95.1 L669.6,94.3 L669.6,93.3 L669.9,92.3 L670.3,91.1 L670.3,90.3 L670.6,89.5 L671.8,88.9 L672.7,88.1 L673.1,87.6 L673.3,86.7 L673.7,85.2 L674.1,84.6 L674.4,83.9 L674.8,82.7 L675.4,81.9 L675.5,81.5 L676.1,80.5 L676.4,79.8 L676.7,78.9 L676.7,79.7 L676.7,80.9 L676.8,82.0 L677.0,82.9 L677.2,83.7 L677.2,84.0 L677.2,84.8 L677.3,86.1 L677.7,87.4 L677.7,87.9 L677.7,88.7 L677.7,89.7 L677.9,90.3 L677.9,91.4 L678.1,92.4 L678.1,93.7 L678.1,94.5 L678.1,93.9 L678.5,92.1 L678.5,91.5 L678.6,91.3 L678.7,89.4 L678.6,89.1 L678.8,87.6 L679.0,86.6 L679.1,86.4 L679.2,85.1 L679.2,83.9 L679.0,83.1 L679.2,82.0 L679.3,81.8 L679.5,80.6 L680.2,79.7 L680.8,78.9 L681.6,78.1 L682.3,77.8 L683.0,77.0 L683.5,75.9 L684.0,75.4 L684.5,73.9 L684.8,74.7 L685.5,75.2 L685.8,76.1 L686.1,77.4 L686.7,78.4 L687.0,77.1 L687.2,76.5 L687.0,76.0 L687.2,74.8 L687.5,73.5 L687.7,73.2 L687.8,71.7 L688.4,70.5 L688.8,70.0 L689.6,69.0 L690.1,68.3 L690.5,69.8 L690.9,69.6 L691.2,71.0 L691.2,71.5 L691.7,72.8 L692.0,74.3 L692.4,74.2 L692.9,76.3 L693.1,76.7 L693.3,75.6 L693.4,75.2 L693.3,74.1 L693.4,73.5 L693.6,72.6 L693.6,71.6 L693.8,70.1 L693.7,69.1 L693.9,68.3 L694.9,69.3 L695.6,70.0 L696.0,68.9 L696.2,68.6 L696.5,67.2 L696.5,66.8 L696.7,65.6 L697.0,66.1 L697.4,66.9 L697.4,68.2 L697.7,69.4 L697.9,70.4 L698.3,71.4 L698.4,72.2 L698.6,73.1 L698.5,74.4 L698.8,74.5 L699.2,75.5 L699.1,76.3 L699.4,77.4 L699.8,78.9 L699.8,79.8 L699.7,79.7 L700.1,81.1 L700.3,82.2 L700.4,82.7 L700.3,83.9 L700.2,84.9 L700.6,85.3 L700.3,86.3 L700.6,87.2 L700.6,88.4 L700.5,89.0 L700.7,90.0 L700.7,91.4 L701.0,92.5 L700.7,93.4 L701.1,93.7 L700.8,95.3 L700.9,95.7 L700.8,97.0 L701.2,97.4 L700.9,99.0 L701.2,99.5 L701.3,98.7 L701.3,98.1 L701.3,97.3 L701.3,95.4 L701.4,95.0 L701.5,93.8 L701.9,92.6 L701.9,92.0 L701.7,91.6 L701.7,90.9 L702.0,89.5 L701.9,89.1 L702.2,87.2 L702.4,85.9 L702.5,85.0 L702.5,84.0 L702.5,83.2 L702.6,82.6 L702.8,81.4 L702.8,80.6 L702.9,79.3 L703.2,79.0 L703.5,78.4 L703.5,77.0 L704.0,76.1 L703.9,74.7 L704.3,74.5 L704.3,74.0 L704.4,72.8 L704.6,71.1 L704.9,71.0 L705.1,70.4 L705.1,68.9 L705.5,68.1 L705.9,67.2 L706.3,66.6 L706.7,65.6 L707.8,66.7 L708.0,66.2 L708.3,64.8 L708.3,64.1 L708.5,63.0 L708.5,62.1 L708.8,60.8 L708.8,59.5 L708.9,59.6 L709.2,58.1 L709.3,57.3 L710.0,56.9 L710.6,55.6 L710.9,56.7 L711.2,57.5 L711.6,58.3 L711.7,59.5 L712.0,58.0 L712.0,58.0 L712.2,56.2 L712.5,56.0 L712.5,55.4 L712.6,53.6 L713.0,53.7 L713.1,52.2 L714.2,52.1 L715.1,52.8 L715.3,52.4 L715.7,50.5 L715.6,50.0 L716.0,49.1 L716.2,47.8 L716.7,46.8 L717.3,45.6 L717.6,46.3 L718.0,47.5 L718.4,48.4 L718.4,47.9 L718.9,46.2 L718.9,45.8 L718.9,44.9 L719.0,43.7 L719.4,42.5 L719.5,42.3 L719.5,41.1 L720.0,39.6 L720.3,39.0 L720.6,38.3 L720.8,39.5 L721.4,40.0 L721.8,41.1 L721.8,42.5 L721.9,42.8 L721.9,44.0 L721.9,44.9 L722.0,45.2 L722.1,46.2 L722.3,47.6 L722.3,48.8 L722.3,49.5"/>
</g>
<g>
<line class="g" x1="40" x2="344.5" y1="267.7" y2="267.7"/>
<text class="yl" x="28.5" y="271.2">1.500</text>
<line class="g" x1="40" x2="344.5" y1="285.7" y2="285.7"/>
<text class="yl" x="28.5" y="289.2">1.400</text>
<line class="g" x1="40" x2="344.5" y1="303.7" y2="303.7"/>
<text class="yl" x="28.5" y="307.2">1.300</text>
<line class="g" x1="40" x2="344.5" y1="321.7" y2="321.7"/>
<text class="yl" x="28.5" y="325.2">1.200</text>
<line class="g" x1="40" x2="344.5" y1="339.7" y2="339.7"/>
<text class="yl" x="28.5" y="343.2">1.100</text>
<line class="g" x1="40" x2="344.5" y1="357.7" y2="357.7"/>
<text class="yl" x="28.5" y="361.2">1.000</text>
<line class="g" x1="40" x2="344.5" y1="375.7" y2="375.7"/>
<text class="yl" x="28.5" y="379.2">900</text>
<line class="g" x1="40" x2="344.5" y1="393.7" y2="393.7"/>
<text class="yl" x="28.5" y="397.2">800</text>
<line class="ax" x1="40" x2="344.5" y1="411.7" y2="411.7"/>
<text class="yl" x="28.5" y="415.2">700</text>
<text class="xl" x="40.0" y="430.2">17</text>
<text class="xl" x="74.1" y="430.2">18</text>
<text class="xl" x="108.2" y="430.2">19</text>
<text class="xl" x="142.3" y="430.2">20</text>
<text class="xl" x="176.4" y="430.2">21</text>
<text class="xl" x="210.5" y="430.2">22</text>
<text class="xl" x="244.6" y="430.2">23</text>
<text class="xl" x="278.7" y="430.2">24</text>
<text class="xl" x="312.8" y="430.2">25</text>
<line class="lk" x1="10.8" x2="29.6" y1="246.9" y2="246.9"/>
<text class="lg" x="32" y="250.9" textLength="80.0" lengthAdjust="spacingAndGlyphs">MSCI Emerging</text>
<path class="ln" d="M40.5,386.4 L40.7,385.0 L40.6,384.8 L40.7,383.5 L40.9,382.8 L40.7,381.1 L40.9,381.0 L40.8,380.0 L41.2,378.6 L41.3,377.4 L41.2,376.8 L41.4,376.3 L41.9,374.4 L42.2,374.5 L42.6,372.7 L42.8,371.6 L43.3,371.2 L43.7,370.2 L44.0,369.0 L44.5,368.0 L44.8,367.1 L45.4,366.4 L45.6,367.8 L45.7,368.7 L46.2,370.1 L46.3,370.6 L46.5,369.1 L46.9,368.9 L47.0,368.2 L47.3,367.2 L47.5,365.6 L47.8,365.3 L47.9,363.9 L48.1,363.0 L48.6,363.3 L49.3,365.2 L49.9,365.7 L50.2,364.4 L50.4,364.2 L50.5,362.9 L50.9,362.2 L50.9,361.3 L51.0,360.4 L51.5,359.0 L51.7,359.3 L51.7,357.7 L52.2,356.9 L52.3,356.0 L53.2,355.9 L54.0,355.6 L55.0,354.7 L56.2,355.4 L57.1,356.0 L57.2,355.2 L57.4,353.9 L57.4,353.8 L57.8,352.7 L58.0,351.9 L58.0,350.9 L58.1,349.7 L58.5,348.2 L58.5,347.8 L58.9,347.0 L59.5,346.0 L60.0,344.9 L60.6,344.2 L61.1,345.2 L61.5,346.2 L61.9,347.0 L62.0,345.4 L62.4,344.6 L62.6,344.4 L62.8,343.4 L63.1,341.7 L63.0,341.2 L63.3,340.1 L63.5,340.3 L63.9,342.1 L64.4,342.2 L64.7,343.5 L64.7,342.3 L65.1,341.1 L65.2,340.2 L65.5,339.8 L65.7,338.4 L65.8,337.0 L66.1,336.6 L66.6,335.8 L67.6,334.8 L68.1,334.5 L68.7,335.6 L69.5,336.6 L69.8,335.8 L69.7,334.3 L70.1,333.5 L70.2,332.6 L70.3,332.4 L70.7,330.9 L70.6,330.4 L70.8,331.7 L71.0,332.0 L71.2,333.1 L71.4,334.0 L71.4,334.6 L71.8,336.6 L72.0,336.8 L72.0,338.0 L72.3,336.9 L72.3,336.5 L72.2,335.0 L72.4,334.8 L72.9,333.9 L72.7,332.7 L73.2,332.1 L73.1,331.0 L73.2,329.8 L73.4,329.0 L73.6,327.7 L73.6,327.0 L74.0,325.6 L74.1,324.9 L74.4,324.0 L74.2,323.7 L74.5,321.9 L74.8,321.9 L74.8,320.1 L75.1,319.3 L75.3,318.6 L75.2,318.0 L75.5,317.0 L75.7,315.6 L75.7,314.4 L75.6,313.3 L75.7,313.4 L76.0,312.3 L76.0,311.5 L76.1,309.9 L76.4,309.6 L76.4,308.3 L76.6,309.8 L76.6,309.8 L76.4,310.7 L76.8,311.6 L76.8,313.4 L76.8,313.8 L76.8,315.3 L76.8,316.0 L76.8,316.4 L77.0,318.3 L77.0,319.3 L77.2,319.5 L77.1,320.7 L77.0,322.1 L77.2,322.9 L77.6,323.2 L77.4,324.0 L77.6,326.1 L77.6,326.1 L77.9,327.2 L78.1,328.0 L78.2,329.3 L78.1,330.4 L78.1,329.9 L78.3,328.2 L78.4,327.0 L78.2,326.0 L78.4,326.2 L78.6,324.8 L78.5,323.5 L79.0,323.2 L78.7,322.3 L79.0,320.5 L79.0,320.4 L79.2,319.1 L79.2,318.0 L80.9,317.3 L81.0,317.9 L81.0,319.0 L81.1,319.7 L81.3,321.7 L81.5,322.3 L81.5,323.6 L81.6,323.8 L81.9,324.8 L81.8,326.4 L82.0,326.9 L82.8,326.0 L83.6,325.6 L83.9,326.6 L83.9,327.1 L84.1,328.0 L84.4,329.3 L84.8,329.6 L85.0,331.1 L85.5,330.0 L85.8,329.3 L86.0,328.1 L86.4,327.6 L86.5,329.0 L86.8,330.1 L87.3,330.9 L87.3,332.0 L87.7,332.1 L87.8,334.0 L88.2,334.5 L88.5,334.0 L89.1,332.5 L89.1,333.8 L89.5,334.0 L89.6,335.5 L89.7,336.5 L89.6,337.2 L89.7,337.8 L90.0,339.0 L89.9,339.3 L90.3,341.1 L90.2,341.4 L90.4,342.5 L90.5,343.9 L90.5,344.4 L90.5,345.3 L90.8,346.8 L90.9,347.7 L91.1,346.8 L91.4,345.7 L91.7,344.5 L92.1,344.5 L92.5,343.1 L92.5,342.0 L93.0,341.4 L93.4,342.3 L93.8,343.3 L94.3,344.1 L94.7,344.4 L95.1,345.6 L95.1,346.5 L95.3,347.4 L95.5,349.0 L95.5,349.3 L95.4,350.0 L95.8,351.5 L95.8,352.5 L96.1,351.2 L96.1,351.2 L96.5,350.1 L96.6,348.8 L96.8,348.3 L97.1,347.6 L97.2,346.3 L97.3,347.7 L97.3,347.7 L97.5,348.6 L97.4,350.2 L97.8,351.0 L97.8,351.5 L98.0,352.2 L98.2,352.9 L98.2,354.7 L98.3,355.2 L98.6,353.9 L98.4,353.7 L98.9,352.5 L99.0,351.3 L99.2,350.0 L99.2,349.0 L99.3,350.5 L99.5,351.2 L99.6,351.3 L99.9,352.2 L99.8,354.1 L100.0,354.5 L100.1,354.9 L100.4,355.9 L100.3,356.5 L100.6,358.0 L100.6,358.9 L101.1,360.0 L101.2,361.2 L101.5,361.4 L101.8,362.3 L102.0,363.5 L102.1,364.2 L102.1,365.8 L102.0,366.9 L102.1,367.3 L102.0,368.6 L102.0,369.2 L102.0,368.1 L102.3,366.8 L102.4,365.9 L102.5,365.5 L102.6,364.8 L102.5,363.1 L102.5,362.7 L102.6,361.6 L102.6,360.7 L102.8,359.7 L103.0,358.8 L103.2,359.6 L103.6,361.2 L103.8,361.9 L104.1,363.0 L104.1,361.9 L104.3,360.5 L104.7,360.2 L104.8,359.6 L104.9,358.8 L105.1,357.7 L105.5,356.6 L105.4,355.4 L105.4,356.0 L105.7,357.3 L105.7,357.9 L106.0,358.8 L106.3,359.7 L106.4,360.8 L106.5,362.1 L106.6,362.5 L106.7,363.6 L106.8,364.3 L107.5,365.5 L108.2,366.4 L108.4,365.6 L108.6,365.0 L108.7,363.9 L108.8,362.9 L108.8,361.4 L109.2,360.9 L109.0,359.7 L109.3,359.1 L109.3,357.7 L109.6,356.7 L109.9,355.9 L109.9,354.9 L109.9,354.3 L110.3,353.2 L110.8,352.1 L110.9,351.3 L111.4,350.3 L111.7,349.0 L112.1,347.8 L112.8,347.7 L113.5,346.3 L113.8,346.7 L113.8,348.2 L114.1,349.2 L114.3,349.7 L114.4,351.1 L114.7,350.3 L114.8,348.7 L114.9,347.7 L115.0,346.9 L115.5,345.7 L115.7,345.6 L116.4,343.9 L116.7,343.6 L117.1,341.9 L117.3,341.8 L117.8,340.7 L118.1,341.5 L118.1,342.9 L118.3,343.6 L118.6,344.9 L118.9,345.7 L118.9,346.2 L119.1,347.0 L119.5,347.5 L119.7,348.6 L119.8,349.7 L120.1,350.4 L120.2,351.9 L120.4,352.1 L120.5,353.6 L120.7,354.2 L121.2,355.6 L121.1,356.1 L121.6,357.7 L121.7,359.0 L121.9,359.4 L122.2,358.2 L122.4,357.0 L122.4,356.1 L122.6,355.6 L122.7,354.3 L123.0,354.1 L123.1,352.9 L123.3,352.1 L123.8,351.0 L123.6,350.5 L124.0,349.0 L124.8,348.4 L125.3,346.9 L126.0,346.2 L126.4,347.3 L126.5,348.1 L126.4,349.5 L126.5,350.6 L126.9,350.7 L127.0,351.5 L127.2,352.6 L127.5,354.4 L127.4,354.4 L127.7,355.9 L127.7,357.2 L128.0,357.5 L128.1,358.2 L128.6,359.8 L128.8,360.7 L128.9,361.6 L129.3,362.5 L129.2,363.4 L129.5,364.2 L129.9,362.7 L129.9,362.4 L130.1,361.4 L130.2,360.4 L130.5,359.2 L130.9,358.0 L131.0,357.3 L131.3,356.7 L131.5,355.8 L131.6,354.5 L132.2,355.1 L132.6,355.8 L133.0,357.4 L133.1,357.3 L133.6,358.7 L133.8,358.1 L134.3,356.6 L134.3,355.2 L134.3,354.7 L134.8,353.7 L134.7,353.3 L134.9,351.9 L135.1,351.3 L135.5,349.4 L135.7,349.0 L136.0,348.2 L136.5,346.5 L136.9,346.3 L137.1,344.9 L137.3,345.5 L137.7,346.4 L137.9,347.4 L138.4,348.9 L138.3,349.6 L138.8,350.4 L138.9,349.6 L139.2,349.0 L139.4,347.9 L139.6,346.6 L139.6,346.0 L139.8,344.2 L139.9,343.6 L140.2,342.5 L140.5,341.1 L140.6,340.7 L140.7,340.0 L141.0,338.6 L141.3,337.7 L141.5,337.0 L141.9,335.7 L141.9,335.2 L142.2,334.2 L142.8,333.0 L143.2,332.7 L143.6,332.4 L143.7,331.0 L144.0,332.4 L144.1,333.5 L144.2,333.5 L144.5,335.0 L144.5,336.2 L144.5,337.1 L144.8,338.3 L144.8,338.7 L145.0,340.3 L145.1,340.7 L145.1,341.4 L145.5,343.0 L145.5,344.3 L145.8,344.8 L145.8,345.4 L146.1,346.9 L146.1,346.1 L146.2,344.7 L146.4,344.4 L146.3,342.8 L146.6,342.9 L146.8,341.2 L146.7,340.1 L146.9,340.2 L147.1,338.6 L147.0,338.0 L147.3,339.0 L147.1,340.3 L147.2,340.9 L147.4,342.2 L147.5,342.8 L147.3,344.1 L147.6,344.0 L147.5,345.6 L147.6,346.2 L147.8,347.6 L147.5,348.2 L147.8,349.4 L147.8,349.6 L147.7,351.1 L147.9,351.3 L148.1,353.2 L148.1,354.2 L148.1,354.5 L148.2,355.6 L148.2,356.5 L148.4,357.7 L148.3,358.2 L148.3,359.0 L148.4,360.2 L148.6,361.2 L148.5,361.7 L148.6,363.6 L148.5,364.1 L148.7,364.8 L148.7,366.3 L148.8,367.3 L148.6,368.2 L148.8,368.7 L148.8,369.5 L148.7,370.6 L148.7,371.5 L148.8,372.5 L148.8,373.2 L148.8,373.8 L149.0,375.0 L148.8,376.3 L148.8,377.7 L149.1,378.1 L149.0,379.2 L149.0,380.2 L149.0,381.1 L149.1,382.3 L148.9,382.2 L149.0,384.2 L149.0,384.0 L149.3,385.4 L149.2,386.3 L149.0,387.7 L149.4,388.4 L149.2,389.2 L149.4,389.9 L149.1,391.6 L149.3,392.0 L149.2,393.1 L149.2,393.5 L149.5,394.7 L149.5,396.1 L149.2,396.8 L149.5,397.4 L149.4,398.2 L149.3,399.8 L149.3,400.7 L149.5,401.2 L149.7,400.1 L149.6,399.0 L149.9,398.3 L149.7,398.1 L150.0,396.5 L149.8,395.7 L149.9,395.0 L149.9,393.7 L150.2,393.4 L150.4,392.4 L150.3,390.9 L150.4,389.7 L150.5,389.0 L150.4,388.5 L150.7,386.9 L150.6,386.1 L150.8,384.9 L151.1,384.5 L151.1,383.5 L151.1,382.1 L151.3,381.3 L151.3,380.6 L151.6,379.4 L151.7,378.2 L152.1,377.5 L152.4,376.6 L152.8,375.6 L152.9,375.3 L153.1,373.7 L153.5,373.6 L153.7,372.5 L154.3,373.8 L154.6,374.1 L155.1,375.2 L155.0,374.1 L155.2,372.9 L155.4,371.9 L155.5,371.7 L155.5,370.7 L155.7,369.2 L155.8,369.0 L155.7,367.0 L156.1,366.4 L156.0,365.2 L156.4,364.9 L156.4,363.6 L156.4,362.8 L156.4,361.9 L156.7,360.6 L157.1,359.6 L157.0,359.1 L157.5,357.4 L157.5,356.4 L157.8,355.9 L157.8,356.6 L158.0,357.2 L158.5,358.6 L158.5,359.8 L158.6,360.7 L158.9,361.4 L158.9,360.5 L159.0,360.1 L159.3,359.0 L159.3,358.2 L159.3,357.3 L159.5,356.1 L159.6,355.0 L159.6,354.1 L159.8,353.6 L159.7,352.3 L159.8,351.3 L160.0,350.0 L160.0,349.5 L160.2,348.3 L160.3,347.6 L160.4,346.7 L160.6,345.3 L160.8,345.0 L161.1,344.0 L161.2,343.3 L161.3,342.1 L161.9,342.2 L162.7,343.5 L162.8,342.7 L163.0,342.0 L163.3,341.0 L163.8,339.9 L164.1,338.4 L164.3,337.2 L164.4,336.6 L165.0,337.4 L165.6,338.0 L166.1,339.3 L166.3,340.0 L166.5,341.7 L166.8,341.7 L166.8,343.8 L166.9,344.1 L167.0,345.7 L167.2,346.2 L167.3,345.6 L167.6,344.3 L167.5,343.3 L167.6,342.0 L167.8,341.0 L167.6,340.0 L167.8,339.2 L167.9,338.8 L168.3,337.5 L168.3,337.4 L168.4,336.3 L168.5,334.7 L168.5,333.7 L168.6,333.1 L168.7,333.8 L169.2,335.2 L169.5,335.6 L169.6,336.5 L169.9,338.2 L170.0,337.9 L170.2,339.3 L170.3,338.3 L170.4,337.9 L170.6,336.8 L170.4,335.7 L170.9,334.9 L170.9,333.4 L170.8,332.9 L171.2,332.2 L171.2,330.5 L171.3,330.0 L171.3,328.8 L171.4,328.3 L171.4,326.9 L171.7,327.0 L171.7,325.8 L171.8,324.5 L172.0,323.9 L172.0,322.3 L172.2,321.7 L172.4,321.2 L172.4,319.4 L172.4,318.4 L172.5,317.4 L172.8,317.0 L173.1,316.3 L173.2,315.3 L173.7,313.6 L174.0,313.4 L174.0,311.5 L174.4,311.2 L174.6,310.1 L174.9,309.6 L174.9,308.1 L175.6,307.7 L175.8,306.9 L175.9,305.3 L176.2,304.5 L176.5,304.0 L176.3,303.3 L176.5,301.9 L176.6,300.9 L176.7,300.6 L176.7,299.4 L176.7,298.4 L176.9,297.0 L176.9,296.0 L177.0,295.4 L177.0,294.8 L177.0,294.3 L177.3,292.3 L177.1,291.7 L177.3,291.0 L177.4,290.7 L177.4,289.0 L177.5,288.3 L177.4,287.4 L177.6,286.6 L177.7,287.4 L178.0,288.1 L177.9,289.3 L178.3,290.5 L178.4,291.7 L178.4,292.7 L178.5,292.9 L178.6,294.1 L178.7,295.2 L179.0,296.2 L179.0,294.9 L179.3,294.0 L179.2,293.5 L179.5,292.5 L179.5,291.7 L179.5,290.6 L179.5,289.9 L179.6,289.2 L179.8,288.3 L180.0,287.3 L180.1,285.7 L180.1,284.7 L180.2,284.1 L180.6,283.5 L180.6,282.3 L180.7,281.2 L180.7,280.4 L180.9,279.2 L180.9,278.4 L181.1,277.6 L181.1,276.9 L181.2,277.9 L181.1,279.1 L181.4,279.1 L181.5,280.4 L181.5,282.1 L181.7,282.0 L181.5,283.5 L181.7,283.9 L181.9,284.7 L182.0,286.4 L182.1,286.9 L182.1,287.5 L181.9,288.6 L182.0,289.3 L182.2,291.0 L182.4,291.6 L182.4,292.3 L182.5,293.5 L182.8,294.6 L182.9,295.3 L183.0,296.8 L183.0,297.1 L183.3,297.6 L183.4,298.6 L183.3,299.9 L183.8,300.5 L184.0,301.8 L183.8,303.2 L183.9,303.8 L184.3,304.5 L184.4,303.5 L184.6,303.2 L184.7,301.4 L184.7,300.9 L185.2,299.8 L185.3,299.6 L185.5,297.6 L185.6,297.1 L185.6,296.2 L185.9,294.8 L186.4,294.7 L186.9,292.6 L187.3,292.1 L187.5,293.6 L187.7,293.8 L187.8,295.2 L187.7,296.0 L187.9,297.2 L188.0,298.1 L188.1,299.0 L188.2,299.4 L188.2,300.2 L188.6,301.4 L188.7,302.0 L188.7,303.1 L188.9,302.6 L189.1,301.2 L189.0,300.7 L189.1,298.9 L189.3,297.9 L189.2,297.3 L189.4,296.7 L189.4,295.8 L189.7,294.9 L189.6,293.7 L189.5,293.2 L189.8,291.5 L190.1,290.7 L189.9,289.6 L190.1,288.9 L190.4,288.6 L190.3,287.3 L190.6,288.6 L190.6,288.6 L191.1,290.3 L191.4,290.8 L191.5,292.1 L191.5,293.1 L192.1,293.5 L192.1,294.9 L192.2,293.7 L192.7,292.8 L192.7,291.8 L193.0,290.9 L193.2,290.5 L193.5,289.3 L193.8,290.7 L193.6,291.6 L194.1,291.9 L193.9,293.5 L194.1,294.0 L194.1,295.3 L194.5,295.7 L194.3,297.3 L194.7,297.9 L194.7,299.2 L194.9,299.7 L194.9,301.2 L195.0,301.0 L195.1,302.5 L195.2,303.0 L195.6,303.7 L195.7,304.9 L195.5,306.3 L195.5,307.4 L195.7,308.4 L196.0,308.4 L196.2,309.0 L196.3,310.0 L196.3,311.4 L196.4,310.0 L196.5,309.2 L196.7,308.7 L196.9,307.6 L196.9,306.5 L197.1,306.1 L197.3,305.5 L197.3,304.0 L197.7,303.1 L197.5,303.5 L197.8,305.1 L197.8,306.5 L197.8,307.1 L197.9,307.2 L198.0,308.9 L198.1,310.1 L198.0,310.6 L198.1,311.4 L198.1,312.6 L198.1,313.7 L198.3,314.2 L198.3,315.3 L198.4,316.1 L198.3,317.0 L198.3,316.2 L198.5,314.9 L198.5,313.7 L198.5,313.8 L198.8,312.4 L198.8,312.1 L198.8,310.8 L199.0,309.7 L199.1,308.7 L199.1,307.4 L199.0,307.4 L199.1,305.6 L199.4,305.4 L199.2,304.8 L199.2,303.0 L199.5,303.2 L199.6,301.3 L199.6,301.4 L199.8,299.6 L199.7,299.0 L199.8,300.2 L200.0,301.2 L200.1,301.9 L200.3,302.4 L200.5,303.6 L200.5,305.0 L201.0,305.1 L201.0,306.5 L201.1,307.3 L201.1,308.4 L201.2,309.0 L201.7,309.6 L201.7,311.3 L201.8,311.3 L201.8,312.6 L201.8,313.9 L202.1,314.5 L202.2,315.6 L202.3,315.1 L202.5,313.6 L202.4,313.0 L202.5,312.0 L202.7,310.5 L202.8,309.7 L203.1,309.3 L203.2,308.7 L203.1,308.0 L203.2,306.4 L203.4,305.2 L203.3,304.8 L203.6,303.8 L204.0,305.2 L203.9,305.1 L204.4,306.0 L204.4,307.8 L204.8,307.7 L204.8,309.0 L205.2,310.1 L205.4,308.5 L205.7,307.8 L206.0,307.2 L206.2,305.9 L206.6,305.2 L206.6,306.6 L206.8,307.1 L206.9,307.7 L206.9,308.3 L207.3,309.9 L207.1,310.3 L207.2,312.0 L207.6,312.8 L207.7,312.9 L207.5,313.8 L207.7,314.9 L207.9,316.2 L208.0,317.0 L208.3,318.2 L208.4,318.3 L208.5,320.0 L209.1,321.2 L209.1,321.2 L209.4,322.5 L209.5,321.3 L209.5,320.3 L209.7,319.4 L210.0,318.6 L210.2,318.3 L210.5,317.1 L210.4,315.9 L210.8,314.8 L210.8,314.2 L211.2,313.7 L211.1,312.4 L211.6,310.8 L211.7,310.8 L211.9,309.4 L212.2,310.8 L212.0,311.6 L212.1,312.2 L212.3,313.1 L212.3,313.6 L212.5,314.7 L212.7,316.5 L212.7,316.6 L212.7,318.1 L213.0,318.4 L213.1,319.6 L213.3,320.4 L213.3,321.8 L213.3,320.6 L213.6,319.9 L213.7,319.4 L213.5,318.1 L213.8,316.6 L213.9,316.6 L213.9,314.7 L214.0,314.6 L214.3,313.5 L214.2,312.1 L214.6,313.3 L214.9,314.1 L215.4,314.3 L215.6,315.6 L215.6,315.9 L216.0,317.6 L215.9,318.0 L216.0,319.7 L216.1,320.1 L216.5,320.6 L216.2,322.3 L216.4,322.5 L216.8,323.7 L216.6,324.4 L216.9,325.5 L217.0,326.6 L217.0,328.0 L217.1,329.0 L217.2,329.3 L217.1,330.4 L217.1,331.3 L217.0,332.1 L217.3,332.7 L217.1,333.6 L217.2,334.5 L217.2,335.3 L217.3,336.9 L217.1,338.1 L217.2,338.8 L217.4,339.4 L217.4,340.9 L217.2,342.0 L217.4,342.1 L217.3,342.7 L217.5,344.0 L217.3,344.6 L217.6,345.8 L217.7,347.0 L217.7,348.0 L217.6,348.9 L217.4,349.6 L217.7,350.1 L217.5,352.0 L217.7,352.5 L217.7,351.1 L217.9,350.4 L217.7,349.4 L218.1,348.7 L218.0,347.6 L217.9,346.3 L217.9,346.4 L218.1,344.8 L218.1,344.1 L218.2,343.3 L218.2,342.0 L218.3,341.1 L218.5,340.4 L218.3,339.3 L218.6,338.9 L218.5,337.2 L218.6,336.3 L218.6,335.1 L218.7,334.8 L218.6,333.8 L219.0,333.3 L219.1,332.0 L219.3,330.3 L219.6,330.0 L219.8,329.0 L219.9,329.5 L220.1,330.2 L220.1,332.1 L220.3,332.8 L220.2,333.3 L220.5,334.7 L220.6,334.9 L221.0,336.6 L221.1,337.2 L221.0,337.6 L221.0,338.3 L221.1,340.3 L221.4,340.7 L221.5,341.8 L221.7,343.1 L221.5,343.0 L221.6,344.9 L221.9,344.8 L221.7,346.2 L221.9,347.1 L222.0,347.9 L222.1,348.4 L222.1,350.2 L222.1,350.9 L222.0,351.1 L222.2,353.0 L222.4,353.1 L222.5,354.5 L222.6,355.0 L222.7,355.9 L222.7,356.3 L222.7,357.3 L222.8,358.7 L222.8,357.6 L223.1,356.7 L223.0,355.2 L223.2,355.4 L223.4,353.7 L223.2,353.2 L223.3,352.0 L223.6,351.3 L223.5,350.3 L223.8,349.0 L223.9,348.6 L224.2,347.5 L224.3,346.6 L224.6,344.6 L224.9,344.2 L225.0,345.6 L224.9,346.0 L225.2,346.9 L225.4,348.2 L225.3,348.7 L225.7,349.2 L225.5,350.6 L225.6,351.8 L226.0,352.2 L225.8,352.7 L225.9,353.6 L226.1,354.9 L226.2,355.9 L226.4,354.7 L227.0,354.1 L227.3,353.1 L227.4,354.4 L227.6,355.1 L227.7,356.3 L227.9,356.9 L228.1,357.8 L228.2,358.8 L228.6,360.1 L228.6,360.8 L228.6,361.9 L228.8,362.7 L229.0,363.5 L229.2,362.6 L229.4,361.8 L229.6,360.5 L229.9,360.1 L230.4,359.4 L230.4,358.5 L230.7,357.3 L231.3,356.8 L232.0,355.2 L232.3,356.0 L232.5,357.3 L232.9,358.4 L232.8,358.8 L233.2,359.8 L233.3,361.1 L233.8,361.7 L233.8,362.8 L234.1,364.3 L234.3,365.1 L234.2,365.4 L234.5,366.8 L234.7,367.9 L235.0,368.5 L235.1,369.1 L235.3,370.1 L235.7,371.8 L235.6,372.5 L235.7,373.7 L236.0,374.3 L236.3,375.4 L236.5,376.7 L236.4,376.7 L236.6,378.6 L236.8,379.5 L237.0,380.0 L237.3,380.8 L237.6,381.3 L238.0,383.1 L238.1,383.5 L238.5,384.5 L239.0,385.6 L239.0,384.3 L239.3,383.7 L239.3,382.3 L239.2,381.9 L239.3,380.7 L239.5,380.4 L239.6,378.5 L239.9,378.1 L239.7,377.4 L239.8,376.7 L240.1,375.2 L239.9,374.5 L240.1,373.7 L240.4,372.7 L240.2,371.7 L240.2,370.3 L240.7,369.7 L240.6,368.5 L240.5,367.7 L240.6,366.4 L240.7,365.6 L241.1,365.1 L241.6,363.8 L241.8,362.7 L242.2,362.0 L242.8,361.4 L243.4,362.6 L243.9,363.4 L244.5,364.2 L244.7,362.7 L244.6,362.6 L245.0,361.2 L245.2,360.2 L245.2,359.6 L245.4,358.9 L245.3,357.5 L245.7,356.4 L245.8,355.5 L245.9,354.5 L246.2,353.5 L246.3,352.4 L246.4,351.8 L246.6,350.4 L246.9,349.8 L247.0,348.6 L247.4,348.3 L247.8,349.6 L247.8,350.1 L247.8,351.3 L248.3,352.2 L248.5,353.6 L248.6,354.1 L248.8,355.5 L249.0,355.9 L249.4,356.8 L249.3,357.7 L249.9,358.8 L249.8,359.4 L250.3,360.0 L250.4,361.4 L250.7,361.9 L250.8,362.7 L250.9,364.6 L251.2,364.8 L251.4,366.0 L251.4,366.6 L251.8,367.7 L251.9,366.9 L252.2,366.0 L252.6,364.7 L252.8,363.9 L252.8,363.2 L252.8,362.0 L253.2,361.4 L253.5,360.6 L253.7,359.5 L254.3,358.3 L254.6,357.3 L254.9,358.5 L255.1,359.0 L255.2,360.2 L255.4,361.1 L255.6,361.4 L255.9,362.8 L256.6,362.5 L256.8,361.4 L257.3,360.1 L257.8,361.5 L257.9,362.2 L258.6,362.7 L258.7,364.2 L259.0,363.9 L259.0,362.3 L259.1,361.9 L259.4,360.1 L259.4,359.6 L259.2,358.8 L259.3,357.7 L259.8,356.6 L259.8,356.1 L259.9,354.5 L260.0,354.2 L260.1,353.1 L260.5,354.2 L260.6,354.8 L260.9,355.8 L261.0,356.8 L261.2,356.9 L261.7,357.8 L262.0,359.0 L262.2,360.1 L262.2,358.7 L262.4,358.6 L262.8,357.1 L262.8,356.4 L263.1,354.9 L263.4,354.1 L263.6,353.2 L263.7,351.9 L263.8,351.3 L264.2,350.6 L264.2,349.7 L264.5,350.3 L264.6,351.0 L264.7,352.9 L264.9,353.9 L265.3,354.3 L265.4,356.0 L265.6,356.0 L265.6,357.3 L266.0,358.1 L265.9,359.1 L266.3,360.0 L266.4,361.8 L266.7,361.8 L266.9,363.7 L267.0,364.2 L267.2,362.6 L267.6,362.6 L268.0,361.9 L268.2,360.7 L268.4,359.4 L268.4,360.2 L268.9,361.6 L269.0,362.7 L269.5,363.6 L269.7,364.6 L269.9,365.0 L270.1,365.5 L270.4,367.0 L270.6,367.9 L271.1,368.6 L271.5,369.7 L271.6,370.4 L272.0,371.3 L272.4,372.4 L272.5,373.2 L272.5,371.8 L272.9,371.1 L272.9,370.6 L273.2,369.3 L273.4,368.4 L273.6,367.3 L273.7,366.4 L274.0,366.3 L273.8,365.5 L274.3,364.3 L274.2,363.6 L274.3,362.6 L274.6,361.4 L275.6,361.1 L276.7,360.1 L276.7,359.8 L277.0,358.4 L277.6,357.8 L277.8,356.6 L277.8,355.4 L278.2,355.2 L278.5,353.5 L278.7,353.1 L278.7,354.6 L278.9,355.1 L279.0,355.4 L279.2,356.3 L279.4,357.5 L279.7,358.8 L279.6,360.0 L280.0,360.7 L280.0,361.1 L280.2,362.9 L280.2,363.5 L280.4,364.2 L280.8,363.9 L280.9,362.1 L281.3,360.8 L281.7,361.0 L281.8,359.2 L282.2,358.7 L282.3,357.4 L282.6,356.6 L283.1,356.1 L283.3,355.6 L283.6,354.1 L283.6,353.1 L284.1,352.3 L284.3,351.8 L284.9,351.0 L285.6,349.7 L286.5,350.1 L287.3,351.1 L287.8,350.3 L287.8,349.4 L288.3,348.1 L288.8,347.8 L289.1,346.9 L289.0,347.9 L289.2,349.3 L289.2,349.7 L289.3,350.2 L289.6,351.6 L289.4,352.0 L289.4,353.0 L289.8,353.5 L289.5,355.6 L289.8,355.9 L289.9,354.5 L289.9,353.8 L289.9,353.6 L290.3,351.9 L290.3,351.5 L290.1,350.6 L290.2,350.0 L290.5,348.2 L290.8,348.0 L290.6,346.1 L290.6,345.2 L290.7,345.4 L290.9,344.0 L291.0,342.4 L291.2,341.8 L291.3,341.6 L291.3,340.3 L291.4,339.3 L291.7,339.9 L292.1,341.1 L292.1,341.7 L292.5,342.5 L292.8,343.6 L293.2,345.3 L293.5,345.9 L293.5,347.2 L293.9,347.6 L294.0,346.9 L294.3,345.7 L294.4,344.6 L294.9,343.6 L295.2,343.6 L295.3,342.1 L295.5,340.5 L295.7,339.8 L295.8,339.2 L296.1,337.7 L296.4,336.6 L296.3,336.6 L296.7,335.2 L297.1,336.5 L297.2,336.5 L297.2,337.9 L297.6,339.3 L298.0,340.2 L298.1,340.7 L298.2,342.2 L298.1,343.0 L298.3,343.3 L298.4,344.4 L298.6,345.7 L298.6,346.7 L298.7,347.7 L298.8,348.7 L298.9,348.9 L299.1,349.5 L299.2,351.0 L299.1,351.3 L299.1,352.8 L299.5,353.9 L299.4,354.5 L299.6,353.7 L299.5,353.2 L299.8,351.7 L299.6,351.0 L299.8,349.9 L299.6,349.3 L299.9,347.5 L300.0,347.2 L299.9,346.0 L299.9,345.6 L299.8,343.9 L300.1,342.7 L300.0,342.4 L300.1,341.6 L300.3,340.2 L300.3,339.4 L301.7,338.8 L301.8,340.1 L301.9,341.1 L302.2,341.9 L302.2,342.7 L302.1,344.1 L302.2,344.0 L302.5,345.3 L302.6,346.5 L302.8,345.7 L302.9,344.1 L303.0,343.5 L303.0,342.7 L302.7,342.2 L302.9,341.1 L302.9,340.8 L303.0,339.1 L303.2,337.8 L303.1,337.6 L303.1,337.0 L303.4,336.2 L303.3,335.3 L303.5,334.3 L303.4,333.2 L303.4,332.1 L303.6,331.2 L303.9,330.0 L303.9,328.8 L303.8,328.6 L304.1,327.3 L304.1,326.4 L304.1,325.4 L304.4,325.1 L304.4,323.5 L304.5,324.2 L304.8,325.6 L304.7,326.3 L305.0,327.0 L305.1,328.6 L305.0,328.7 L305.2,330.1 L305.3,331.3 L305.6,331.8 L306.6,333.2 L307.4,333.5 L307.3,334.2 L307.5,335.9 L307.8,336.1 L307.8,337.1 L308.2,338.5 L308.1,339.8 L308.4,339.9 L308.5,341.7 L308.8,342.4 L309.0,341.4 L309.7,340.8 L309.9,339.8 L310.3,338.2 L311.5,337.1 L311.8,337.6 L311.7,339.0 L312.1,340.0 L312.1,341.4 L312.2,341.8 L312.7,342.6 L312.6,344.1 L312.7,345.6 L313.3,346.1 L313.5,347.0 L313.6,347.4 L313.6,349.1 L314.1,349.3 L314.2,350.6 L314.4,349.3 L314.6,349.2 L314.6,348.0 L314.7,347.2 L315.1,345.7 L315.0,345.1 L315.4,343.4 L315.6,342.9 L315.9,341.5 L316.0,340.9 L316.3,339.9 L316.5,339.5 L316.6,337.5 L316.8,337.1 L317.1,336.5 L317.1,335.4 L317.2,334.0 L317.5,333.0 L317.7,332.9 L317.9,331.8 L318.0,332.8 L318.4,334.3 L318.3,334.4 L318.4,335.2 L318.7,336.4 L318.8,337.4 L318.9,338.1 L318.9,339.8 L319.1,340.6 L319.4,340.0 L319.4,339.2 L319.5,337.7 L319.5,337.1 L319.8,336.3 L319.9,335.2 L320.1,333.5 L320.1,333.0 L320.1,332.3 L320.3,331.2 L320.5,332.4 L320.3,333.7 L320.7,334.6 L320.8,335.1 L320.8,335.8 L321.1,336.4 L321.0,338.3 L321.3,339.0 L321.3,339.4 L321.4,341.1 L321.5,341.8 L321.4,343.3 L321.7,343.9 L321.8,344.5 L321.5,345.4 L321.7,346.1 L321.9,348.0 L321.9,348.9 L321.9,349.4 L322.1,350.4 L321.9,351.1 L322.1,352.5 L321.9,353.4 L322.0,354.2 L322.0,354.8 L322.0,355.4 L322.3,357.1 L322.4,357.4 L322.3,358.8 L322.5,357.9 L322.2,356.4 L322.3,356.4 L322.6,354.6 L322.6,353.7 L322.5,353.7 L322.9,352.8 L322.8,352.0 L322.7,350.9 L323.0,349.7 L322.8,349.2 L323.0,348.2 L323.2,346.9 L323.0,346.2 L323.3,345.5 L323.2,344.1 L323.2,343.5 L323.5,341.7 L323.4,340.8 L323.5,340.8 L323.7,339.1 L324.1,339.0 L324.0,337.9 L324.4,336.1 L324.4,335.3 L324.4,334.7 L324.5,334.1 L324.8,333.3 L324.9,331.8 L324.9,330.6 L325.0,330.3 L325.3,329.1 L325.5,328.0 L325.3,327.0 L325.6,326.5 L325.9,327.6 L326.3,328.8 L326.8,329.4 L327.0,328.0 L327.2,327.4 L327.1,326.1 L327.5,325.4 L327.5,324.3 L327.7,324.2 L328.1,322.6 L328.3,322.5 L328.5,320.5 L328.5,320.0 L328.9,320.4 L329.0,321.5 L329.3,322.6 L329.7,323.5 L330.0,322.8 L330.1,321.8 L330.1,320.2 L330.3,320.1 L330.5,319.0 L330.6,317.3 L331.0,317.3 L330.8,315.9 L331.3,314.3 L331.4,314.3 L331.5,312.9 L332.1,313.7 L332.6,314.6 L333.0,316.2 L333.1,315.4 L333.2,314.6 L333.7,313.9 L333.6,312.2 L333.8,311.8 L334.1,310.5 L334.3,310.0 L334.4,308.5 L334.9,309.2 L335.7,310.0 L336.2,311.5 L336.1,310.9 L336.2,309.6 L336.2,308.4 L336.6,307.8 L336.6,306.4 L336.5,306.2 L336.6,305.3 L336.5,304.1 L336.7,302.6 L336.8,302.1 L337.2,301.6 L337.6,300.8 L338.2,299.3 L338.5,298.5 L338.8,298.1 L338.6,296.9 L338.9,295.6 L338.9,294.3 L339.0,294.3 L339.1,293.2 L339.2,291.7 L339.3,291.0 L339.5,290.3 L340.3,289.5 L340.9,289.1 L341.0,288.3 L341.0,287.0 L341.1,286.7 L341.2,285.0 L341.5,284.7 L341.4,284.0 L341.5,282.6 L342.6,283.8 L342.9,284.4 L342.8,285.1 L342.8,287.2 L342.8,287.5 L342.8,288.3 L343.1,289.5 L342.9,289.8 L343.1,290.9 L343.3,292.1 L343.1,293.1 L343.4,293.4 L343.6,294.5 L343.6,296.1 L343.6,296.8"/>
</g>
<g>
<line class="g" x1="419.6" x2="720.6" y1="264.3" y2="264.3"/>
<text class="yl" x="408.8" y="268.5">3.300</text>
<line class="g" x1="419.6" x2="720.6" y1="283.1" y2="283.1"/>
<text class="yl" x="408.8" y="287.3">3.100</text>
<line class="g" x1="419.6" x2="720.6" y1="302.0" y2="302.0"/>
<text class="yl" x="408.8" y="306.2">2.900</text>
<line class="g" x1="419.6" x2="720.6" y1="320.8" y2="320.8"/>
<text class="yl" x="408.8" y="325.0">2.700</text>
<line class="g" x1="419.6" x2="720.6" y1="339.7" y2="339.7"/>
<text class="yl" x="408.8" y="343.9">2.500</text>
<line class="g" x1="419.6" x2="720.6" y1="358.5" y2="358.5"/>
<text class="yl" x="408.8" y="362.7">2.300</text>
<line class="g" x1="419.6" x2="720.6" y1="377.3" y2="377.3"/>
<text class="yl" x="408.8" y="381.5">2.100</text>
<line class="g" x1="419.6" x2="720.6" y1="396.2" y2="396.2"/>
<text class="yl" x="408.8" y="400.4">1.900</text>
<line class="ax" x1="419.6" x2="720.6" y1="415.0" y2="415.0"/>
<text class="yl" x="408.8" y="419.2">1.700</text>
<text class="xl" x="420.0" y="433.6">17</text>
<text class="xl" x="453.8" y="433.6">18</text>
<text class="xl" x="487.7" y="433.6">19</text>
<text class="xl" x="521.5" y="433.6">20</text>
<text class="xl" x="555.4" y="433.6">21</text>
<text class="xl" x="589.2" y="433.6">22</text>
<text class="xl" x="623.0" y="433.6">23</text>
<text class="xl" x="656.9" y="433.6">24</text>
<text class="xl" x="690.7" y="433.6">25</text>
<line class="lk" x1="388.8" x2="407.3" y1="243.6" y2="243.6"/>
<text class="lg" x="409.6" y="246.9" textLength="39.6" lengthAdjust="spacingAndGlyphs">Frontier</text>
<path class="ln" d="M419.8,352.7 L420.0,351.3 L419.8,351.1 L419.9,349.8 L420.1,349.1 L419.8,347.5 L420.0,347.4 L419.8,346.4 L420.2,345.1 L420.3,343.9 L419.9,343.8 L420.2,341.8 L420.1,341.9 L420.2,340.1 L420.2,339.5 L420.3,338.0 L420.6,337.6 L420.7,336.4 L421.0,335.5 L421.0,334.7 L421.4,334.4 L421.4,333.3 L421.9,332.8 L421.9,331.2 L422.9,331.5 L424.0,332.6 L424.8,333.9 L425.4,334.7 L425.7,334.4 L426.1,333.4 L426.4,331.9 L426.9,331.7 L427.1,330.4 L427.3,329.0 L427.7,329.0 L428.1,327.8 L428.7,328.1 L429.4,329.4 L429.9,329.9 L430.1,328.8 L430.5,328.1 L430.5,327.3 L430.6,326.3 L431.1,324.9 L431.2,325.2 L431.3,323.6 L431.8,322.8 L431.9,322.3 L431.9,321.5 L432.3,320.2 L432.8,319.2 L432.9,318.2 L433.3,316.8 L433.6,316.0 L433.8,317.5 L434.5,318.2 L434.8,319.3 L435.0,320.1 L435.3,320.7 L435.7,321.6 L436.1,320.2 L436.1,319.9 L436.5,319.0 L436.7,317.9 L437.1,317.3 L437.3,316.5 L437.4,315.0 L437.8,314.7 L438.7,313.6 L439.6,313.3 L440.0,314.9 L440.4,315.9 L440.6,316.7 L440.9,315.5 L440.7,315.0 L440.9,313.3 L441.1,313.2 L441.5,311.5 L441.4,310.9 L441.8,309.7 L441.9,309.1 L442.3,307.8 L442.7,307.5 L443.2,306.1 L443.5,304.7 L444.0,304.4 L444.3,303.3 L445.1,302.1 L445.4,301.6 L445.8,302.5 L446.5,303.5 L446.7,303.6 L447.5,305.1 L447.8,305.7 L448.0,306.7 L448.2,308.4 L448.4,309.2 L448.8,307.9 L448.9,307.7 L449.2,306.1 L449.4,305.4 L449.6,304.4 L449.8,303.7 L451.2,304.4 L451.2,302.9 L451.6,303.1 L451.7,301.4 L451.9,300.5 L451.8,300.2 L451.8,298.7 L452.0,298.5 L452.5,297.6 L452.3,296.4 L452.6,295.4 L452.8,294.9 L452.7,293.7 L452.8,292.4 L453.0,291.2 L452.9,290.5 L453.1,289.2 L453.2,288.4 L453.4,287.5 L453.1,287.3 L453.4,285.5 L453.6,285.5 L453.5,283.7 L453.7,283.0 L454.0,282.2 L454.0,281.6 L454.3,280.7 L454.7,279.3 L454.8,278.0 L454.7,276.9 L455.0,277.0 L455.3,275.9 L455.5,274.7 L455.5,276.0 L455.5,276.3 L455.8,277.9 L455.9,278.9 L455.9,278.8 L455.8,279.7 L456.2,280.6 L456.2,282.4 L456.2,282.8 L456.2,284.2 L456.2,284.9 L456.4,285.7 L456.4,286.1 L456.6,288.0 L456.6,288.9 L456.8,289.0 L456.6,290.6 L456.7,291.3 L457.1,291.5 L456.9,292.3 L457.0,294.4 L457.1,294.7 L457.2,293.2 L457.6,292.4 L457.9,291.3 L458.1,290.6 L458.0,290.3 L458.3,288.5 L458.5,287.8 L459.3,288.0 L459.9,289.2 L460.0,289.8 L460.5,292.1 L460.9,292.6 L461.2,291.7 L461.4,290.3 L462.1,290.0 L462.2,288.5 L462.3,289.9 L462.7,289.9 L462.8,291.7 L463.1,292.3 L463.2,292.6 L463.3,293.6 L463.6,294.7 L463.7,295.1 L463.9,297.2 L464.1,297.7 L464.1,299.0 L464.2,299.2 L464.6,300.2 L464.5,301.8 L464.7,302.3 L464.9,303.0 L465.1,304.2 L465.0,304.7 L465.2,305.7 L465.3,307.0 L465.7,307.3 L465.9,308.5 L466.1,309.7 L466.1,310.6 L466.3,311.1 L466.3,312.8 L466.5,313.9 L467.0,314.6 L467.0,315.6 L467.2,316.1 L467.3,314.7 L467.4,314.7 L467.4,313.7 L467.5,312.8 L468.0,311.1 L468.1,310.8 L468.2,309.9 L468.2,308.5 L468.2,309.6 L468.3,310.2 L468.6,311.5 L468.4,311.8 L468.8,313.6 L468.8,314.0 L468.9,315.3 L469.0,315.6 L468.9,316.3 L469.2,317.7 L469.2,318.5 L469.3,319.2 L469.6,320.2 L469.6,320.8 L469.7,322.7 L469.9,323.2 L469.8,324.1 L470.1,325.5 L470.2,326.5 L470.4,325.7 L470.7,324.7 L470.8,323.2 L470.9,322.5 L471.3,321.4 L471.6,321.0 L471.6,319.6 L472.0,318.3 L472.0,316.9 L472.6,316.5 L472.7,315.4 L472.9,315.9 L472.9,317.7 L473.2,318.4 L473.2,318.9 L473.3,320.3 L473.5,321.4 L473.5,322.4 L473.5,322.4 L473.7,323.7 L474.4,322.3 L475.1,321.6 L475.1,322.9 L475.5,323.7 L475.6,324.3 L475.9,325.0 L476.1,325.8 L476.2,327.7 L476.5,328.0 L476.5,329.2 L477.8,329.9 L477.8,331.4 L478.2,332.1 L478.3,332.9 L478.5,333.6 L478.4,335.1 L478.6,335.9 L478.7,336.0 L479.0,336.9 L478.8,338.9 L479.1,339.4 L479.2,339.7 L479.5,340.8 L479.4,341.5 L479.6,343.0 L479.6,342.0 L480.1,341.4 L480.1,340.7 L480.4,339.2 L480.7,338.3 L480.9,337.4 L481.0,336.8 L481.3,338.1 L481.4,339.3 L481.8,339.7 L481.8,341.0 L481.9,341.6 L482.3,342.2 L482.4,343.7 L482.6,342.3 L482.8,341.9 L482.9,341.3 L482.8,339.6 L482.9,339.2 L483.0,338.3 L482.9,337.4 L483.2,336.4 L483.3,335.3 L483.5,335.0 L483.6,333.7 L483.6,332.7 L483.8,331.9 L484.0,332.3 L484.5,334.0 L484.6,335.2 L484.9,336.4 L485.2,336.8 L485.3,338.2 L485.6,339.0 L485.4,339.5 L485.7,340.9 L485.7,341.5 L486.0,342.6 L486.1,343.7 L486.4,342.6 L486.4,341.9 L486.5,341.4 L486.5,340.0 L486.6,339.2 L486.6,338.3 L486.7,337.4 L486.9,336.8 L486.9,335.8 L486.9,334.8 L486.9,333.4 L487.2,332.9 L487.0,331.8 L487.2,331.2 L487.1,329.8 L487.5,329.0 L487.4,327.9 L487.5,327.1 L487.6,326.4 L488.3,325.3 L488.4,324.7 L488.7,323.8 L488.9,322.3 L489.2,322.2 L489.6,320.9 L489.9,321.3 L490.0,322.8 L490.4,322.0 L490.9,321.1 L491.3,319.9 L491.8,319.7 L492.1,318.6 L492.5,319.2 L492.8,320.1 L493.2,320.8 L493.5,322.1 L493.7,321.6 L494.2,319.9 L494.5,319.6 L494.8,317.9 L494.9,317.6 L495.2,316.6 L495.7,317.5 L495.9,318.9 L496.3,319.6 L496.8,321.0 L497.2,321.4 L497.5,322.8 L497.5,323.4 L497.6,324.2 L498.1,324.7 L498.3,325.8 L498.5,326.6 L498.5,328.1 L498.7,328.3 L499.0,329.7 L499.0,328.8 L499.1,327.5 L499.6,327.1 L499.4,325.7 L499.9,325.4 L500.0,324.8 L500.2,323.2 L500.3,322.0 L500.4,321.1 L500.5,320.7 L500.6,319.4 L500.9,319.2 L501.0,318.0 L501.2,317.2 L501.6,316.4 L502.1,315.4 L502.1,315.0 L502.7,313.9 L502.8,312.4 L503.1,311.7 L503.5,310.9 L503.7,309.8 L503.7,309.3 L503.8,308.6 L504.3,306.7 L504.5,306.2 L504.7,306.6 L505.0,307.5 L505.4,309.3 L505.4,309.2 L505.6,311.1 L505.9,311.3 L506.3,312.4 L506.2,312.9 L506.6,314.5 L506.8,315.5 L506.7,316.5 L507.0,317.4 L506.8,318.3 L507.2,318.6 L507.1,320.2 L507.3,321.2 L507.2,322.0 L507.4,322.8 L507.7,323.5 L507.7,324.9 L508.1,325.7 L508.4,327.1 L508.8,328.0 L509.2,328.4 L509.3,329.7 L510.7,329.0 L511.2,329.6 L511.4,331.4 L511.4,331.4 L511.8,333.2 L512.1,333.8 L512.5,332.8 L512.6,331.5 L512.7,331.1 L513.1,330.2 L513.1,329.9 L513.4,328.5 L513.8,327.6 L513.8,327.1 L514.1,325.3 L514.3,325.2 L514.7,323.6 L514.9,323.6 L514.9,322.1 L515.1,321.4 L515.4,322.0 L515.5,323.0 L515.9,324.4 L515.8,325.1 L516.1,326.0 L516.4,327.3 L516.5,327.6 L517.0,327.2 L517.4,326.0 L517.5,325.5 L517.9,323.9 L518.3,323.5 L518.4,322.6 L518.8,321.5 L519.1,320.2 L519.2,320.0 L519.4,318.6 L519.7,318.0 L520.3,316.9 L520.7,316.2 L521.4,314.9 L521.8,314.5 L522.0,315.2 L522.5,315.8 L522.8,317.2 L523.1,318.7 L523.3,319.5 L523.4,320.0 L523.8,321.5 L523.9,321.4 L524.3,322.9 L524.4,324.1 L524.5,324.9 L524.8,325.6 L525.0,327.0 L525.0,327.3 L525.1,329.0 L525.1,328.9 L525.3,330.5 L525.3,331.7 L525.6,332.0 L525.4,332.5 L525.6,334.1 L525.7,334.5 L525.9,335.9 L526.0,337.0 L525.9,337.3 L526.2,339.2 L526.3,339.4 L526.2,340.2 L526.4,342.1 L526.6,342.4 L526.6,343.8 L526.5,345.1 L526.6,345.6 L526.6,346.7 L526.7,347.9 L526.8,348.6 L526.6,349.8 L526.8,349.8 L526.7,351.3 L526.7,351.9 L526.8,353.3 L526.5,353.8 L526.7,355.1 L526.7,355.2 L526.6,356.7 L526.7,356.9 L526.9,358.7 L526.8,359.7 L526.8,360.2 L526.9,361.0 L527.0,362.3 L526.9,362.7 L526.8,363.5 L526.9,364.6 L527.1,365.6 L527.0,366.0 L527.0,367.9 L526.9,368.3 L527.1,369.0 L527.1,370.5 L527.2,371.4 L527.0,372.3 L527.1,372.7 L527.1,373.5 L527.0,374.5 L526.9,375.4 L527.0,376.2 L527.0,376.7 L527.3,377.9 L527.0,379.2 L527.0,380.6 L527.2,380.9 L527.1,382.0 L527.2,383.1 L527.2,383.9 L527.2,384.5 L527.3,386.0 L527.1,385.9 L527.2,387.9 L527.3,387.7 L527.6,389.1 L527.5,390.0 L527.3,391.4 L527.7,392.1 L527.6,392.9 L527.8,393.6 L527.5,395.3 L527.6,395.7 L527.6,396.8 L527.7,397.3 L527.9,398.4 L527.9,399.8 L527.7,400.5 L528.0,401.1 L527.9,401.9 L527.8,403.6 L527.9,404.5 L528.2,404.8 L528.1,405.5 L528.3,406.7 L528.1,408.3 L528.4,408.7 L528.1,409.7 L528.2,410.8 L528.3,411.5 L528.2,410.5 L528.6,410.2 L528.8,409.1 L528.7,407.4 L528.9,406.7 L528.7,406.2 L529.0,404.6 L528.9,403.8 L529.1,402.6 L529.4,402.2 L529.3,401.1 L529.4,400.2 L529.5,398.7 L529.7,397.9 L529.6,397.0 L529.8,396.1 L530.0,395.1 L530.2,394.0 L530.2,393.6 L530.2,391.9 L530.4,391.4 L530.6,392.6 L530.9,393.7 L530.9,394.0 L531.0,394.9 L531.2,395.6 L531.5,397.0 L531.6,395.5 L531.8,395.3 L531.8,394.4 L532.0,392.8 L532.1,392.7 L532.1,390.7 L532.4,390.1 L532.4,388.9 L532.8,388.7 L532.8,387.4 L532.9,386.6 L532.9,387.6 L533.1,388.3 L533.6,389.2 L533.5,390.7 L533.8,391.4 L534.0,390.0 L533.8,389.1 L533.8,388.4 L533.8,387.2 L534.2,386.7 L534.0,386.1 L534.0,385.2 L534.1,384.1 L534.1,383.7 L534.3,382.6 L534.3,381.7 L534.3,380.8 L534.4,379.7 L534.4,378.6 L534.4,377.7 L534.5,377.2 L534.3,375.8 L534.5,374.9 L534.5,373.9 L534.6,372.6 L534.6,372.1 L534.8,370.8 L534.8,370.1 L534.9,368.7 L535.0,368.5 L535.2,367.4 L535.2,366.7 L535.1,364.9 L535.2,364.5 L535.2,365.7 L535.3,366.9 L535.4,367.9 L535.7,368.8 L535.9,369.1 L535.9,369.9 L535.9,371.1 L536.0,371.8 L536.2,372.9 L536.2,374.2 L536.6,373.7 L537.1,371.9 L537.3,372.1 L537.6,370.7 L537.9,371.4 L538.2,372.9 L538.6,373.6 L539.0,374.2 L539.6,375.0 L539.9,375.9 L540.3,376.9 L540.4,375.5 L540.6,374.6 L540.5,373.6 L540.6,372.9 L540.8,372.5 L541.2,371.3 L541.2,371.1 L541.3,370.1 L541.4,368.5 L541.4,368.0 L541.9,366.6 L542.1,365.7 L542.8,365.2 L543.1,363.8 L543.8,364.5 L544.4,365.5 L544.9,366.6 L545.5,366.2 L545.8,364.2 L546.3,363.8 L546.4,362.7 L546.6,362.2 L546.9,361.1 L546.9,359.9 L547.4,359.1 L547.5,357.5 L547.7,356.9 L547.8,357.8 L548.2,358.9 L548.4,359.0 L548.6,360.3 L548.7,361.0 L548.8,361.8 L549.0,363.1 L549.2,362.8 L549.2,361.7 L549.3,360.4 L549.5,359.9 L549.5,358.3 L549.6,357.8 L549.8,357.3 L549.8,355.5 L549.7,354.6 L550.0,354.1 L549.9,352.6 L550.1,352.4 L550.1,351.1 L550.2,350.5 L550.6,348.8 L550.7,348.7 L550.7,346.8 L550.9,346.7 L551.0,346.1 L551.0,344.5 L551.5,344.1 L551.5,342.8 L551.7,342.4 L551.7,340.8 L552.1,340.4 L551.9,339.7 L552.2,338.3 L552.5,337.2 L552.6,336.9 L552.8,335.7 L552.8,334.5 L553.1,333.7 L553.5,332.3 L553.7,331.2 L554.0,330.5 L554.2,329.7 L554.5,328.8 L554.6,328.2 L555.1,326.0 L555.2,325.6 L555.3,326.3 L555.6,327.4 L555.8,329.0 L555.9,329.1 L556.1,330.2 L556.1,331.2 L556.4,332.1 L556.6,333.1 L556.8,333.7 L556.6,334.8 L557.0,336.0 L557.0,337.2 L557.0,338.0 L557.0,338.2 L557.1,339.4 L557.2,340.5 L557.4,341.4 L557.4,340.0 L557.7,339.1 L557.6,338.6 L557.9,337.5 L557.9,336.7 L557.9,335.5 L557.9,334.8 L558.0,334.0 L558.2,333.0 L558.4,331.8 L558.6,332.9 L558.8,333.2 L559.0,334.0 L559.2,335.3 L559.7,336.6 L559.8,337.3 L560.2,338.1 L560.4,338.9 L560.6,340.0 L561.0,340.7 L561.1,342.1 L561.5,342.6 L561.9,343.6 L562.2,344.8 L562.5,345.6 L562.7,344.9 L563.2,343.1 L563.5,342.5 L563.7,342.3 L563.9,340.7 L564.6,339.6 L565.0,339.5 L565.7,338.7 L566.0,339.5 L566.5,340.5 L566.7,342.1 L567.0,341.5 L567.2,340.2 L567.3,339.0 L567.2,338.3 L567.5,337.2 L567.8,337.1 L568.0,335.9 L568.2,334.9 L568.3,333.6 L568.6,333.0 L568.6,331.8 L568.7,331.3 L568.7,329.7 L570.0,330.4 L570.6,331.0 L571.4,331.8 L571.7,332.3 L571.8,333.3 L571.8,334.6 L572.3,335.3 L572.6,336.6 L572.5,338.1 L572.6,338.7 L573.0,339.4 L573.3,341.0 L573.5,341.4 L573.7,340.1 L573.8,339.6 L574.3,338.5 L574.5,338.3 L574.8,336.3 L575.0,335.9 L574.9,334.6 L575.2,334.6 L575.5,333.1 L575.7,331.7 L576.0,331.8 L576.2,330.2 L576.4,329.7 L576.3,328.6 L576.5,327.9 L576.8,327.0 L576.9,325.6 L577.3,327.1 L577.8,327.5 L578.0,328.4 L578.6,329.7 L579.0,328.8 L579.3,327.5 L579.5,327.1 L579.9,325.7 L579.9,324.9 L580.1,324.3 L580.2,322.6 L580.4,321.6 L580.3,321.1 L580.6,320.4 L580.6,319.6 L580.9,318.7 L580.8,317.6 L580.7,317.2 L581.0,315.9 L582.2,316.6 L582.3,315.2 L582.8,314.3 L582.7,313.3 L583.2,312.5 L583.4,311.7 L583.7,313.0 L583.7,314.0 L583.6,313.9 L584.0,315.5 L584.1,315.9 L584.1,317.2 L584.0,318.2 L584.5,318.5 L584.2,319.5 L584.5,320.7 L584.8,321.4 L584.7,322.3 L585.0,323.3 L585.1,324.8 L585.6,325.9 L585.4,326.8 L585.9,327.1 L585.9,328.3 L586.4,327.7 L587.3,326.2 L587.4,325.3 L587.5,324.7 L588.1,323.3 L588.0,323.0 L588.5,321.7 L588.6,320.7 L588.8,322.1 L588.9,323.1 L589.1,322.9 L589.3,324.4 L589.5,324.9 L590.0,325.5 L590.0,326.9 L590.4,325.7 L590.2,325.2 L590.2,324.5 L590.4,323.6 L590.7,321.7 L591.0,320.4 L591.0,320.0 L592.4,319.3 L592.7,319.8 L592.7,320.6 L592.8,321.8 L592.9,323.0 L593.2,323.8 L593.2,324.5 L593.4,326.0 L593.6,327.2 L593.8,327.6 L593.7,328.5 L593.8,328.8 L594.2,330.5 L594.2,331.8 L594.2,332.4 L594.4,332.5 L594.7,334.2 L594.8,335.3 L594.8,335.8 L594.9,336.6 L595.0,335.7 L595.1,335.0 L595.2,334.3 L595.4,333.0 L595.4,332.3 L595.6,331.3 L595.5,330.4 L595.8,329.2 L595.8,328.0 L596.0,327.6 L596.3,327.1 L596.9,325.6 L597.2,326.5 L597.4,328.0 L597.5,328.7 L597.8,329.4 L598.0,330.3 L598.2,330.9 L598.3,332.5 L598.3,333.7 L598.4,333.8 L598.7,335.4 L598.5,336.7 L598.6,336.7 L598.9,338.7 L599.0,338.6 L599.1,340.5 L599.3,340.6 L599.1,342.1 L599.3,342.8 L599.4,344.1 L599.5,344.9 L599.7,345.5 L599.9,346.8 L599.9,348.2 L600.4,348.4 L600.4,349.7 L600.5,350.8 L600.4,351.7 L600.5,352.4 L600.9,353.0 L600.9,354.6 L600.9,354.7 L600.9,355.9 L600.8,357.3 L601.1,358.0 L601.2,356.9 L601.2,356.6 L601.3,355.0 L601.3,354.4 L601.4,353.5 L601.5,351.9 L601.6,351.1 L601.8,350.6 L601.8,349.7 L602.9,351.1 L603.0,352.4 L602.9,353.6 L603.0,353.8 L603.2,354.4 L603.1,355.9 L603.5,357.3 L603.2,357.3 L603.5,358.2 L603.3,360.1 L603.6,360.0 L603.4,361.4 L603.6,361.9 L603.8,363.5 L603.8,364.1 L603.9,365.5 L604.0,366.1 L604.1,367.8 L604.3,368.4 L604.4,369.1 L604.4,369.7 L604.7,371.4 L604.6,371.8 L604.9,373.1 L605.0,374.6 L605.6,375.3 L605.8,375.5 L605.8,376.4 L606.2,377.5 L606.5,378.7 L606.7,377.8 L607.0,377.1 L607.0,375.3 L607.2,375.0 L607.6,374.3 L607.6,372.4 L607.9,371.8 L608.0,370.5 L608.0,369.6 L608.2,368.7 L608.5,367.9 L608.7,367.6 L609.0,366.4 L608.9,365.2 L609.3,364.1 L609.3,363.5 L609.7,364.8 L609.6,365.4 L610.2,365.6 L610.3,367.5 L610.7,368.4 L610.8,369.1 L611.1,369.7 L611.1,370.6 L611.3,371.5 L611.3,371.9 L611.6,373.1 L611.8,374.9 L611.8,374.9 L611.8,376.4 L612.1,376.7 L612.3,377.9 L612.5,378.7 L612.5,380.1 L612.5,380.7 L612.8,382.0 L612.8,383.3 L612.6,384.0 L612.9,384.3 L613.0,386.2 L613.0,386.1 L613.1,388.0 L613.3,388.8 L613.3,389.6 L613.3,390.4 L613.4,391.1 L614.3,391.7 L614.8,393.2 L615.4,393.3 L616.2,394.6 L616.5,393.8 L616.4,392.4 L616.5,392.3 L616.7,390.9 L617.1,389.5 L616.8,389.4 L617.0,387.8 L617.4,387.2 L617.3,386.0 L617.6,385.6 L617.7,384.5 L617.9,384.3 L618.0,383.4 L618.3,381.9 L618.2,381.2 L618.3,380.2 L618.4,379.2 L618.8,378.0 L618.7,377.1 L619.0,376.6 L619.2,375.2 L619.6,374.0 L620.1,373.6 L620.3,372.5 L620.4,373.8 L620.7,374.5 L621.1,375.0 L621.3,376.5 L621.3,377.6 L621.7,378.0 L621.8,376.8 L621.8,375.6 L622.1,375.1 L622.0,373.9 L622.4,373.2 L622.6,372.5 L622.7,371.7 L622.6,370.7 L622.6,369.6 L622.9,368.3 L622.8,368.3 L623.1,366.9 L623.4,365.7 L623.9,365.0 L624.1,364.0 L624.5,363.5 L624.9,364.4 L625.0,365.0 L625.2,365.6 L625.4,367.5 L625.8,367.7 L626.0,368.9 L626.3,369.7 L626.6,370.8 L626.8,371.4 L627.1,372.5 L627.5,373.6 L627.7,374.5 L627.9,375.3 L628.3,376.8 L628.4,377.0 L628.7,377.9 L628.8,378.6 L629.0,380.1 L629.3,379.2 L629.5,378.6 L629.6,377.2 L629.8,375.5 L630.1,375.2 L630.3,373.7 L630.4,373.1 L631.4,372.6 L632.2,373.5 L633.2,373.1 L633.5,374.3 L633.6,374.7 L634.0,376.1 L634.3,376.3 L634.8,378.0 L635.1,378.6 L635.2,379.4 L635.5,378.0 L635.7,376.8 L635.9,376.9 L636.4,375.7 L636.6,374.5 L637.7,374.7 L638.4,373.2 L639.4,373.1 L639.5,372.8 L639.8,370.9 L639.7,370.4 L639.9,369.4 L640.1,368.4 L640.3,367.1 L640.4,367.0 L640.5,365.6 L640.8,364.9 L641.0,363.1 L641.4,363.0 L641.9,361.4 L642.1,362.2 L642.3,363.6 L642.6,364.2 L642.8,365.1 L643.0,365.6 L643.1,366.6 L643.2,368.0 L643.5,369.0 L644.4,370.0 L644.9,371.1 L645.1,371.4 L645.6,373.5 L646.1,373.7 L646.2,375.1 L646.5,375.8 L647.0,376.6 L647.5,377.8 L647.7,378.7 L648.2,379.7 L648.8,380.1 L649.0,381.4 L649.0,382.3 L649.4,382.2 L649.6,384.1 L649.6,384.5 L649.9,385.4 L650.2,386.3 L650.4,385.8 L650.2,384.4 L650.6,383.2 L650.4,382.8 L650.5,382.2 L650.9,380.8 L650.7,379.5 L650.8,378.6 L651.0,378.0 L651.1,377.3 L651.2,376.1 L651.7,375.3 L651.9,374.7 L652.2,373.5 L652.5,372.5 L652.8,371.8 L653.3,370.5 L653.8,369.5 L654.1,368.6 L654.6,367.6 L654.9,367.1 L655.0,365.8 L655.0,365.0 L655.3,363.9 L655.4,362.9 L655.5,362.0 L655.7,360.7 L656.0,360.0 L656.9,359.8 L658.0,359.3 L658.5,358.8 L658.7,357.8 L659.0,357.1 L659.5,355.5 L659.7,354.9 L660.1,353.8 L660.9,354.8 L661.5,355.2 L661.7,354.0 L662.3,353.1 L662.4,352.5 L663.1,351.2 L663.3,350.4 L663.9,351.8 L664.5,352.5 L664.9,353.1 L664.9,353.7 L665.2,355.1 L665.3,356.1 L665.6,356.6 L665.6,357.1 L665.8,358.1 L666.1,359.7 L665.9,360.6 L666.2,361.1 L666.3,362.1 L666.6,361.4 L666.9,360.9 L666.7,359.1 L666.9,359.1 L667.1,358.2 L667.3,356.8 L667.5,355.4 L667.8,355.3 L667.8,353.8 L668.1,353.1 L668.4,353.8 L668.9,354.5 L669.5,355.7 L669.8,356.6 L670.1,357.0 L670.3,358.6 L670.6,359.3 L671.0,360.9 L671.4,361.4 L671.6,359.9 L671.9,359.5 L671.8,358.8 L671.9,358.1 L672.1,356.9 L672.3,356.1 L672.8,355.1 L672.8,353.8 L674.2,353.1 L674.2,354.4 L674.3,354.9 L674.8,356.3 L674.8,357.0 L674.7,358.2 L675.0,358.8 L675.1,360.2 L675.3,360.7 L675.3,361.5 L675.6,362.8 L675.5,361.6 L675.8,361.2 L676.0,360.2 L676.2,358.6 L676.0,358.6 L676.4,357.2 L676.5,356.2 L676.6,355.7 L676.7,355.0 L676.6,353.7 L676.9,352.6 L677.0,351.7 L677.3,350.9 L677.8,349.8 L678.1,348.8 L678.3,348.3 L678.6,347.3 L678.9,346.0 L679.4,345.4 L679.6,344.3 L680.3,344.3 L680.5,343.0 L680.8,342.3 L681.3,343.3 L682.2,344.2 L682.8,345.0 L683.2,346.5 L683.5,346.9 L683.8,348.2 L684.2,348.6 L684.5,349.5 L684.5,350.3 L685.1,351.4 L685.0,352.0 L685.5,352.6 L685.6,353.9 L686.1,352.6 L686.4,351.8 L686.7,351.9 L687.3,350.6 L687.5,351.3 L687.6,352.5 L687.5,353.2 L687.8,354.4 L688.0,355.4 L688.4,355.9 L688.5,356.9 L688.5,358.0 L688.6,358.9 L688.8,357.7 L689.2,357.2 L689.3,356.0 L689.8,354.9 L690.1,353.9 L690.7,355.2 L691.2,355.7 L691.7,356.7 L692.1,356.0 L692.5,355.2 L692.8,353.7 L693.4,353.4 L693.9,352.9 L694.0,351.8 L694.5,350.8 L694.6,349.4 L695.1,348.4 L695.6,346.9 L695.9,347.0 L696.1,345.4 L696.4,344.5 L696.9,344.0 L697.5,342.2 L697.8,341.7 L698.1,342.7 L697.9,343.7 L698.0,344.4 L698.5,345.1 L698.5,346.6 L698.6,347.3 L698.7,347.7 L698.7,349.3 L698.9,350.3 L698.8,351.0 L698.8,352.1 L698.7,353.2 L698.7,353.4 L699.0,354.3 L699.1,355.6 L698.9,356.4 L698.9,358.2 L699.2,358.5 L699.0,359.7 L699.2,360.6 L699.3,359.2 L699.4,358.4 L699.5,357.5 L699.5,356.2 L699.5,355.6 L699.7,354.8 L699.7,353.6 L699.7,352.4 L699.7,352.4 L699.7,351.5 L700.0,349.9 L700.0,349.8 L700.2,347.9 L700.1,347.3 L700.4,346.1 L700.4,345.1 L700.8,344.0 L700.9,343.9 L701.2,341.9 L701.4,341.9 L701.4,339.8 L701.7,339.5 L702.0,338.8 L702.3,338.1 L702.4,336.9 L702.4,335.4 L702.8,334.9 L702.8,334.1 L703.2,333.1 L703.4,331.7 L703.7,331.3 L703.8,329.8 L704.0,328.5 L704.2,328.2 L704.5,327.2 L704.9,328.1 L705.2,329.4 L705.4,330.2 L705.8,331.1 L706.0,332.2 L706.2,331.5 L706.0,330.0 L706.3,329.2 L706.2,328.7 L706.4,327.3 L706.6,326.4 L706.7,325.3 L706.7,324.4 L706.7,323.9 L707.1,323.3 L706.9,322.5 L707.5,321.3 L707.5,320.5 L707.6,319.6 L707.8,318.3 L707.9,317.7 L707.7,316.9 L707.8,315.4 L708.2,314.6 L708.2,313.3 L707.9,312.0 L708.1,311.6 L708.2,310.3 L708.8,310.9 L709.3,312.5 L709.2,312.0 L709.4,310.8 L709.3,309.2 L709.5,308.2 L709.6,307.6 L709.8,307.1 L709.6,306.4 L710.0,305.2 L709.9,303.9 L710.0,303.8 L709.9,302.5 L710.1,301.4 L710.6,301.1 L710.7,299.5 L711.1,298.3 L711.5,298.0 L711.9,297.5 L711.9,295.6 L712.1,294.6 L712.3,293.6 L712.8,293.0 L712.9,291.9 L713.7,292.9 L714.5,293.0 L714.9,291.8 L714.7,290.7 L715.2,289.8 L715.3,289.1 L715.8,288.3 L716.4,286.9 L716.8,287.6 L717.1,288.9 L717.1,289.8 L717.5,290.4 L717.9,291.9 L718.3,290.8 L718.4,289.8 L719.0,288.6 L719.1,290.1 L719.2,290.6 L719.3,291.3 L719.8,292.7 L719.7,293.6 L719.9,292.4 L719.9,291.5 L720.4,290.2 L720.3,290.4 L720.7,288.4 L720.9,288.0"/>
</g>
<text x="12.9" y="466" style="font-size:11.4px" textLength="102.8" lengthAdjust="spacingAndGlyphs">Fuente: Bloomberg, Afi</text>
</svg></body></html>
